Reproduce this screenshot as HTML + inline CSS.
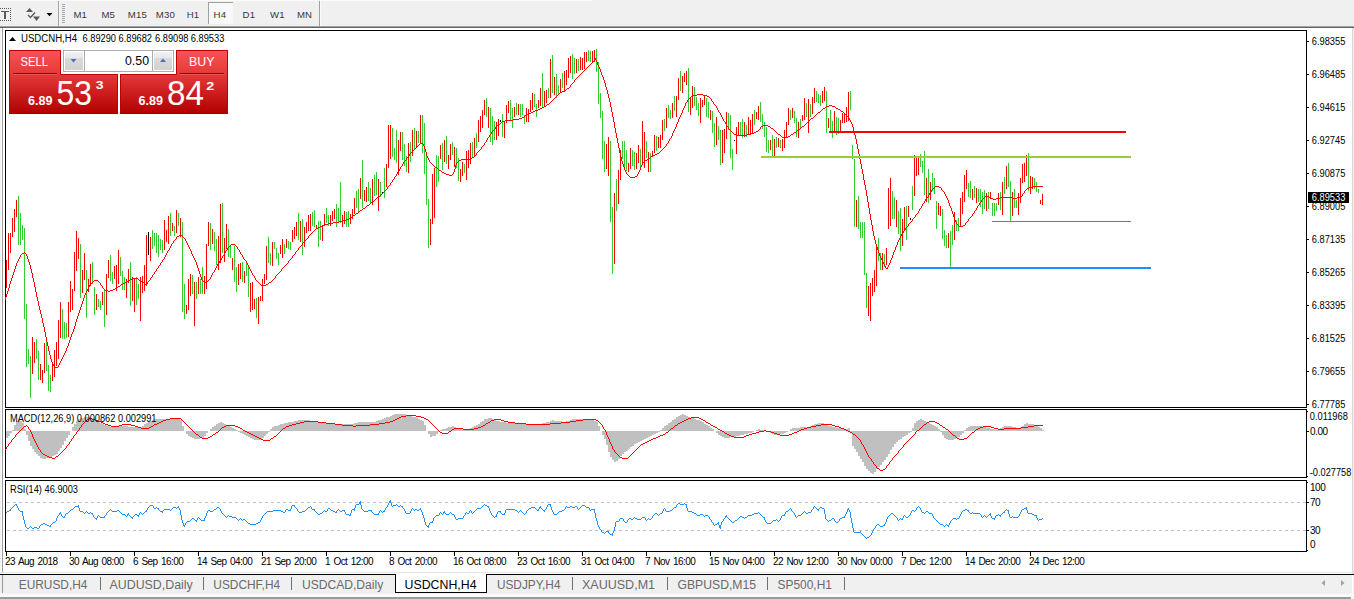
<!DOCTYPE html><html><head><meta charset="utf-8"><style>body{margin:0;width:1354px;height:599px;overflow:hidden;background:#fff;position:relative;font-family:"Liberation Sans",sans-serif}</style></head><body><svg width="1354" height="599" viewBox="0 0 1354 599" style="position:absolute;left:0;top:0" font-family="Liberation Sans, sans-serif"><rect x="0" y="0" width="1354" height="27" fill="#f0f0f0"/><rect x="0" y="0" width="593" height="1" fill="#fafafa"/><rect x="0" y="26" width="1354" height="1" fill="#a4a4a4"/><rect x="0" y="27" width="1354" height="1" fill="#646464"/><rect x="0" y="8" width="1" height="1" fill="#5a5a5a"/><rect x="0" y="20" width="1" height="1" fill="#5a5a5a"/><rect x="2" y="8" width="1" height="1" fill="#5a5a5a"/><rect x="2" y="20" width="1" height="1" fill="#5a5a5a"/><rect x="4" y="8" width="1" height="1" fill="#5a5a5a"/><rect x="4" y="20" width="1" height="1" fill="#5a5a5a"/><rect x="6" y="8" width="1" height="1" fill="#5a5a5a"/><rect x="6" y="20" width="1" height="1" fill="#5a5a5a"/><rect x="8" y="8" width="1" height="1" fill="#5a5a5a"/><rect x="8" y="20" width="1" height="1" fill="#5a5a5a"/><rect x="10" y="8" width="1" height="1" fill="#5a5a5a"/><rect x="10" y="20" width="1" height="1" fill="#5a5a5a"/><rect x="10" y="10" width="1" height="1" fill="#5a5a5a"/><rect x="10" y="12" width="1" height="1" fill="#5a5a5a"/><rect x="10" y="14" width="1" height="1" fill="#5a5a5a"/><rect x="10" y="16" width="1" height="1" fill="#5a5a5a"/><rect x="10" y="18" width="1" height="1" fill="#5a5a5a"/><rect x="1" y="11" width="8" height="1" fill="#5a5a5a"/><rect x="4" y="11" width="2" height="8" fill="#5a5a5a"/><path d="M26 12 L29.5 8 L33 12 Z" fill="#5a5a5a"/><path d="M33 16.5 L40 16.5 L36.5 21 Z" fill="#5a5a5a"/><path d="M28 15 L30.5 17.5 L35 12.5" stroke="#5a5a5a" stroke-width="1.3" fill="none"/><path d="M46.5 13 L52.5 13 L49.5 16.3 Z" fill="#000"/><rect x="58" y="1" width="1" height="25" fill="#a0a0a0"/><rect x="59" y="1" width="1" height="25" fill="#fbfbfb"/><rect x="62" y="4" width="3" height="1" fill="#a8a8a8"/><rect x="62" y="6" width="3" height="1" fill="#a8a8a8"/><rect x="62" y="8" width="3" height="1" fill="#a8a8a8"/><rect x="62" y="10" width="3" height="1" fill="#a8a8a8"/><rect x="62" y="12" width="3" height="1" fill="#a8a8a8"/><rect x="62" y="14" width="3" height="1" fill="#a8a8a8"/><rect x="62" y="16" width="3" height="1" fill="#a8a8a8"/><rect x="62" y="18" width="3" height="1" fill="#a8a8a8"/><rect x="62" y="20" width="3" height="1" fill="#a8a8a8"/><rect x="62" y="22" width="3" height="1" fill="#a8a8a8"/><rect x="208" y="2" width="25" height="22" fill="#f8f8f8"/><rect x="208" y="2" width="25" height="1" fill="#a0a0a0"/><rect x="208" y="2" width="1" height="22" fill="#a0a0a0"/><rect x="319" y="1" width="1" height="25" fill="#a0a0a0"/><rect x="320" y="1" width="1" height="25" fill="#fbfbfb"/><text x="73.4" y="18" font-size="9.6" fill="#383838" style="letter-spacing:0.2px">M1</text><text x="101.4" y="18" font-size="9.6" fill="#383838" style="letter-spacing:0.2px">M5</text><text x="127.7" y="18" font-size="9.6" fill="#383838" style="letter-spacing:0.2px">M15</text><text x="155.7" y="18" font-size="9.6" fill="#383838" style="letter-spacing:0.2px">M30</text><text x="186.7" y="18" font-size="9.6" fill="#383838" style="letter-spacing:0.2px">H1</text><text x="213.6" y="18" font-size="9.6" fill="#383838" style="letter-spacing:0.2px">H4</text><text x="242.6" y="18" font-size="9.6" fill="#383838" style="letter-spacing:0.2px">D1</text><text x="270" y="18" font-size="9.6" fill="#383838" style="letter-spacing:0.2px">W1</text><text x="296.9" y="18" font-size="9.6" fill="#383838" style="letter-spacing:0.2px">MN</text><rect x="0" y="28" width="1354" height="546" fill="#ffffff"/><rect x="0" y="28" width="1" height="571" fill="#f0f0f0"/><rect x="2" y="28" width="1" height="545" fill="#9a9a9a"/><rect x="1352" y="28" width="1" height="546" fill="#d8d8d8"/><rect x="1353" y="28" width="1" height="571" fill="#f0f0f0"/><rect x="5" y="30" width="1302" height="1" fill="#000"/><rect x="5" y="407" width="1302" height="1" fill="#000"/><rect x="5" y="30" width="1" height="378" fill="#000"/><rect x="1306" y="30" width="1" height="378" fill="#000"/><rect x="5" y="409" width="1302" height="1" fill="#000"/><rect x="5" y="477" width="1302" height="1" fill="#000"/><rect x="5" y="409" width="1" height="69" fill="#000"/><rect x="1306" y="409" width="1" height="69" fill="#000"/><rect x="5" y="480" width="1302" height="1" fill="#000"/><rect x="5" y="551" width="1302" height="1" fill="#000"/><rect x="5" y="480" width="1" height="72" fill="#000"/><rect x="1306" y="480" width="1" height="72" fill="#000"/><rect x="1307" y="41" width="2" height="1" fill="#000"/><text x="1311.8" y="45" font-size="10" fill="#000" textLength="33.5" lengthAdjust="spacingAndGlyphs">6.98355</text><rect x="1307" y="74" width="2" height="1" fill="#000"/><text x="1311.8" y="78" font-size="10" fill="#000" textLength="33.5" lengthAdjust="spacingAndGlyphs">6.96485</text><rect x="1307" y="107" width="2" height="1" fill="#000"/><text x="1311.8" y="111" font-size="10" fill="#000" textLength="33.5" lengthAdjust="spacingAndGlyphs">6.94615</text><rect x="1307" y="140" width="2" height="1" fill="#000"/><text x="1311.8" y="144" font-size="10" fill="#000" textLength="33.5" lengthAdjust="spacingAndGlyphs">6.92745</text><rect x="1307" y="173" width="2" height="1" fill="#000"/><text x="1311.8" y="177" font-size="10" fill="#000" textLength="33.5" lengthAdjust="spacingAndGlyphs">6.90875</text><rect x="1307" y="206" width="2" height="1" fill="#000"/><text x="1311.8" y="210" font-size="10" fill="#000" textLength="33.5" lengthAdjust="spacingAndGlyphs">6.89005</text><rect x="1307" y="239" width="2" height="1" fill="#000"/><text x="1311.8" y="243" font-size="10" fill="#000" textLength="33.5" lengthAdjust="spacingAndGlyphs">6.87135</text><rect x="1307" y="272" width="2" height="1" fill="#000"/><text x="1311.8" y="276" font-size="10" fill="#000" textLength="33.5" lengthAdjust="spacingAndGlyphs">6.85265</text><rect x="1307" y="305" width="2" height="1" fill="#000"/><text x="1311.8" y="309" font-size="10" fill="#000" textLength="33.5" lengthAdjust="spacingAndGlyphs">6.83395</text><rect x="1307" y="338" width="2" height="1" fill="#000"/><text x="1311.8" y="342" font-size="10" fill="#000" textLength="33.5" lengthAdjust="spacingAndGlyphs">6.81525</text><rect x="1307" y="371" width="2" height="1" fill="#000"/><text x="1311.8" y="375" font-size="10" fill="#000" textLength="33.5" lengthAdjust="spacingAndGlyphs">6.79655</text><rect x="1307" y="404" width="2" height="1" fill="#000"/><text x="1311.8" y="408" font-size="10" fill="#000" textLength="33.5" lengthAdjust="spacingAndGlyphs">6.77785</text><rect x="1308" y="192" width="41" height="11" fill="#000"/><text x="1311.8" y="201" font-size="10" fill="#fff" textLength="33.5" lengthAdjust="spacingAndGlyphs">6.89533</text><rect x="1307" y="411" width="1" height="1" fill="#000"/><rect x="1307" y="431" width="2" height="1" fill="#000"/><rect x="1307" y="476" width="1" height="1" fill="#000"/><text x="1309.8" y="420" font-size="10" fill="#000" textLength="38" lengthAdjust="spacingAndGlyphs">0.011968</text><text x="1310" y="435" font-size="10" fill="#000" style="letter-spacing:-0.45px">0.00</text><text x="1309.8" y="475.5" font-size="10" fill="#000" textLength="41.5" lengthAdjust="spacingAndGlyphs">-0.027758</text><rect x="1307" y="482" width="1" height="1" fill="#000"/><rect x="1307" y="502" width="2" height="1" fill="#000"/><rect x="1307" y="530" width="2" height="1" fill="#000"/><rect x="1307" y="550" width="1" height="1" fill="#000"/><text x="1310" y="491" font-size="10" fill="#000" style="letter-spacing:-0.45px">100</text><text x="1310" y="506" font-size="10" fill="#000" style="letter-spacing:-0.45px">70</text><text x="1310" y="534" font-size="10" fill="#000" style="letter-spacing:-0.45px">30</text><text x="1310" y="548" font-size="10" fill="#000" style="letter-spacing:-0.45px">0</text><line x1="7" y1="502.5" x2="1306" y2="502.5" stroke="#c0c0c0" stroke-width="1" stroke-dasharray="3,3"/><line x1="7" y1="530.5" x2="1306" y2="530.5" stroke="#c0c0c0" stroke-width="1" stroke-dasharray="3,3"/><rect x="6" y="552" width="1" height="4" fill="#000"/><text x="5" y="565" font-size="10" fill="#000" style="letter-spacing:-0.55px;word-spacing:1.2px">23 Aug 2018</text><rect x="70" y="552" width="1" height="4" fill="#000"/><text x="69" y="565" font-size="10" fill="#000" style="letter-spacing:-0.55px;word-spacing:1.2px">30 Aug 08:00</text><rect x="134" y="552" width="1" height="4" fill="#000"/><text x="133" y="565" font-size="10" fill="#000" style="letter-spacing:-0.55px;word-spacing:1.2px">6 Sep 16:00</text><rect x="198" y="552" width="1" height="4" fill="#000"/><text x="197" y="565" font-size="10" fill="#000" style="letter-spacing:-0.55px;word-spacing:1.2px">14 Sep 04:00</text><rect x="262" y="552" width="1" height="4" fill="#000"/><text x="261" y="565" font-size="10" fill="#000" style="letter-spacing:-0.55px;word-spacing:1.2px">21 Sep 20:00</text><rect x="326" y="552" width="1" height="4" fill="#000"/><text x="325" y="565" font-size="10" fill="#000" style="letter-spacing:-0.55px;word-spacing:1.2px">1 Oct 12:00</text><rect x="390" y="552" width="1" height="4" fill="#000"/><text x="389" y="565" font-size="10" fill="#000" style="letter-spacing:-0.55px;word-spacing:1.2px">8 Oct 20:00</text><rect x="454" y="552" width="1" height="4" fill="#000"/><text x="453" y="565" font-size="10" fill="#000" style="letter-spacing:-0.55px;word-spacing:1.2px">16 Oct 08:00</text><rect x="518" y="552" width="1" height="4" fill="#000"/><text x="517" y="565" font-size="10" fill="#000" style="letter-spacing:-0.55px;word-spacing:1.2px">23 Oct 16:00</text><rect x="582" y="552" width="1" height="4" fill="#000"/><text x="581" y="565" font-size="10" fill="#000" style="letter-spacing:-0.55px;word-spacing:1.2px">31 Oct 04:00</text><rect x="646" y="552" width="1" height="4" fill="#000"/><text x="645" y="565" font-size="10" fill="#000" style="letter-spacing:-0.55px;word-spacing:1.2px">7 Nov 16:00</text><rect x="710" y="552" width="1" height="4" fill="#000"/><text x="709" y="565" font-size="10" fill="#000" style="letter-spacing:-0.55px;word-spacing:1.2px">15 Nov 04:00</text><rect x="774" y="552" width="1" height="4" fill="#000"/><text x="773" y="565" font-size="10" fill="#000" style="letter-spacing:-0.55px;word-spacing:1.2px">22 Nov 12:00</text><rect x="838" y="552" width="1" height="4" fill="#000"/><text x="837" y="565" font-size="10" fill="#000" style="letter-spacing:-0.55px;word-spacing:1.2px">30 Nov 00:00</text><rect x="902" y="552" width="1" height="4" fill="#000"/><text x="901" y="565" font-size="10" fill="#000" style="letter-spacing:-0.55px;word-spacing:1.2px">7 Dec 12:00</text><rect x="966" y="552" width="1" height="4" fill="#000"/><text x="965" y="565" font-size="10" fill="#000" style="letter-spacing:-0.55px;word-spacing:1.2px">14 Dec 20:00</text><rect x="1030" y="552" width="1" height="4" fill="#000"/><text x="1029" y="565" font-size="10" fill="#000" style="letter-spacing:-0.55px;word-spacing:1.2px">24 Dec 12:00</text><rect x="0" y="572" width="1354" height="1" fill="#e4e4e4"/><rect x="0" y="574" width="1354" height="1" fill="#000"/><rect x="1" y="575" width="1351" height="19" fill="#f0f0f0"/><rect x="2" y="575" width="1" height="18" fill="#9a9a9a"/><rect x="0" y="594" width="1354" height="3" fill="#fcfcfc"/><rect x="0" y="597" width="1351" height="2" fill="#9a9a9a"/><rect x="395" y="573" width="92" height="20" fill="#fff"/><rect x="395" y="574" width="1" height="19" fill="#000"/><rect x="486" y="574" width="1" height="19" fill="#000"/><rect x="395" y="592" width="92" height="1" fill="#000"/><text x="18.7" y="589" font-size="12" fill="#6a6a6a" textLength="68.8" lengthAdjust="spacingAndGlyphs">EURUSD,H4</text><rect x="100" y="577" width="1" height="13" fill="#707070"/><text x="109.5" y="589" font-size="12" fill="#6a6a6a" textLength="83.3" lengthAdjust="spacingAndGlyphs">AUDUSD,Daily</text><rect x="203" y="577" width="1" height="13" fill="#707070"/><text x="213.3" y="589" font-size="12" fill="#6a6a6a" textLength="66.8" lengthAdjust="spacingAndGlyphs">USDCHF,H4</text><rect x="291" y="577" width="1" height="13" fill="#707070"/><text x="301.9" y="589" font-size="12" fill="#6a6a6a" textLength="81.4" lengthAdjust="spacingAndGlyphs">USDCAD,Daily</text><text x="496.9" y="589" font-size="12" fill="#6a6a6a" textLength="63.6" lengthAdjust="spacingAndGlyphs">USDJPY,H4</text><rect x="572" y="577" width="1" height="13" fill="#707070"/><text x="581.9" y="589" font-size="12" fill="#6a6a6a" textLength="73.2" lengthAdjust="spacingAndGlyphs">XAUUSD,M1</text><rect x="667" y="577" width="1" height="13" fill="#707070"/><text x="677.4" y="589" font-size="12" fill="#6a6a6a" textLength="78.7" lengthAdjust="spacingAndGlyphs">GBPUSD,M15</text><rect x="767" y="577" width="1" height="13" fill="#707070"/><text x="777.5" y="589" font-size="12" fill="#6a6a6a" textLength="54.4" lengthAdjust="spacingAndGlyphs">SP500,H1</text><rect x="844" y="577" width="1" height="13" fill="#707070"/><text x="404.5" y="589" font-size="12" fill="#000" textLength="72" lengthAdjust="spacingAndGlyphs">USDCNH,H4</text><path d="M1325 580 L1321.5 583 L1325 586 Z" fill="#a0a0a0"/><path d="M1341 580 L1344.5 583 L1341 586 Z" fill="#a0a0a0"/><path d="M9 41 L12.5 37 L16 41 Z" fill="#000"/><text x="21" y="42" font-size="10" fill="#000" textLength="56" lengthAdjust="spacingAndGlyphs">USDCNH,H4</text><text x="82.5" y="42" font-size="10" fill="#000" textLength="33.5" lengthAdjust="spacingAndGlyphs">6.89290</text><text x="118.5" y="42" font-size="10" fill="#000" textLength="33.5" lengthAdjust="spacingAndGlyphs">6.89682</text><text x="155" y="42" font-size="10" fill="#000" textLength="33.5" lengthAdjust="spacingAndGlyphs">6.89098</text><text x="190.8" y="42" font-size="10" fill="#000" textLength="33.5" lengthAdjust="spacingAndGlyphs">6.89533</text><path d="M6 431h2V438h-2ZM8 431h2V436h-2ZM10 431h2V433h-2ZM12 430h2V431h-2ZM14 425h2V431h-2ZM16 421h2V431h-2ZM18 420h2V431h-2ZM20 421h2V431h-2ZM22 423h2V431h-2ZM24 429h2V431h-2ZM26 431h2V435h-2ZM28 431h2V441h-2ZM30 431h2V446h-2ZM32 431h2V449h-2ZM34 431h2V452h-2ZM36 431h2V454h-2ZM38 431h2V456h-2ZM40 431h2V458h-2ZM42 431h2V459h-2ZM44 431h2V459h-2ZM46 431h2V458h-2ZM48 431h2V458h-2ZM50 431h2V458h-2ZM52 431h2V456h-2ZM54 431h2V455h-2ZM56 431h2V454h-2ZM58 431h2V451h-2ZM60 431h2V448h-2ZM62 431h2V445h-2ZM64 431h2V441h-2ZM66 431h2V438h-2ZM68 431h2V435h-2ZM72 427h2V431h-2ZM74 424h2V431h-2ZM76 421h2V431h-2ZM78 419h2V431h-2ZM80 418h2V431h-2ZM82 418h2V431h-2ZM84 417h2V431h-2ZM86 417h2V431h-2ZM88 417h2V431h-2ZM90 418h2V431h-2ZM92 418h2V431h-2ZM94 419h2V431h-2ZM96 421h2V431h-2ZM98 422h2V431h-2ZM100 423h2V431h-2ZM102 424h2V431h-2ZM104 425h2V431h-2ZM106 426h2V431h-2ZM108 426h2V431h-2ZM110 427h2V431h-2ZM112 427h2V431h-2ZM114 426h2V431h-2ZM116 426h2V431h-2ZM118 426h2V431h-2ZM120 426h2V431h-2ZM122 426h2V431h-2ZM124 426h2V431h-2ZM126 426h2V431h-2ZM128 427h2V431h-2ZM130 427h2V431h-2ZM132 427h2V431h-2ZM134 427h2V431h-2ZM136 427h2V431h-2ZM138 427h2V431h-2ZM140 427h2V431h-2ZM142 426h2V431h-2ZM144 424h2V431h-2ZM146 423h2V431h-2ZM148 422h2V431h-2ZM150 421h2V431h-2ZM152 420h2V431h-2ZM154 419h2V431h-2ZM156 419h2V431h-2ZM158 419h2V431h-2ZM160 419h2V431h-2ZM162 419h2V431h-2ZM164 419h2V431h-2ZM166 419h2V431h-2ZM168 419h2V431h-2ZM170 419h2V431h-2ZM172 419h2V431h-2ZM174 419h2V431h-2ZM176 419h2V431h-2ZM178 419h2V431h-2ZM180 420h2V431h-2ZM182 426h2V431h-2ZM186 431h2V434h-2ZM188 431h2V436h-2ZM190 431h2V437h-2ZM192 431h2V438h-2ZM194 431h2V439h-2ZM196 431h2V439h-2ZM198 431h2V439h-2ZM200 431h2V438h-2ZM202 431h2V438h-2ZM204 431h2V436h-2ZM206 431h2V433h-2ZM210 429h2V431h-2ZM212 427h2V431h-2ZM214 426h2V431h-2ZM216 424h2V431h-2ZM218 423h2V431h-2ZM220 422h2V431h-2ZM222 423h2V431h-2ZM224 424h2V431h-2ZM226 425h2V431h-2ZM228 426h2V431h-2ZM230 427h2V431h-2ZM232 428h2V431h-2ZM234 429h2V431h-2ZM236 430h2V431h-2ZM238 431h2V432h-2ZM240 431h2V433h-2ZM242 431h2V434h-2ZM244 431h2V435h-2ZM246 431h2V436h-2ZM248 431h2V437h-2ZM250 431h2V438h-2ZM252 431h2V439h-2ZM254 431h2V440h-2ZM256 431h2V440h-2ZM258 431h2V440h-2ZM260 431h2V440h-2ZM262 431h2V438h-2ZM264 431h2V436h-2ZM266 431h2V434h-2ZM268 431h2V432h-2ZM270 429h2V431h-2ZM272 427h2V431h-2ZM274 426h2V431h-2ZM276 426h2V431h-2ZM278 425h2V431h-2ZM280 424h2V431h-2ZM282 424h2V431h-2ZM284 423h2V431h-2ZM286 423h2V431h-2ZM288 422h2V431h-2ZM290 422h2V431h-2ZM292 422h2V431h-2ZM294 421h2V431h-2ZM296 421h2V431h-2ZM298 420h2V431h-2ZM300 420h2V431h-2ZM302 420h2V431h-2ZM304 420h2V431h-2ZM306 420h2V431h-2ZM308 420h2V431h-2ZM310 421h2V431h-2ZM312 421h2V431h-2ZM314 421h2V431h-2ZM316 421h2V431h-2ZM318 422h2V431h-2ZM320 422h2V431h-2ZM322 422h2V431h-2ZM324 423h2V431h-2ZM326 423h2V431h-2ZM328 423h2V431h-2ZM330 424h2V431h-2ZM332 424h2V431h-2ZM334 424h2V431h-2ZM336 424h2V431h-2ZM338 424h2V431h-2ZM340 424h2V431h-2ZM342 424h2V431h-2ZM344 424h2V431h-2ZM346 424h2V431h-2ZM348 424h2V431h-2ZM350 424h2V431h-2ZM352 424h2V431h-2ZM354 423h2V431h-2ZM356 423h2V431h-2ZM358 422h2V431h-2ZM360 422h2V431h-2ZM362 422h2V431h-2ZM364 422h2V431h-2ZM366 422h2V431h-2ZM368 422h2V431h-2ZM370 422h2V431h-2ZM372 422h2V431h-2ZM374 422h2V431h-2ZM376 421h2V431h-2ZM378 420h2V431h-2ZM380 420h2V431h-2ZM382 419h2V431h-2ZM384 418h2V431h-2ZM386 417h2V431h-2ZM388 417h2V431h-2ZM390 416h2V431h-2ZM392 415h2V431h-2ZM394 414h2V431h-2ZM396 414h2V431h-2ZM398 414h2V431h-2ZM400 414h2V431h-2ZM402 414h2V431h-2ZM404 414h2V431h-2ZM406 415h2V431h-2ZM408 415h2V431h-2ZM410 416h2V431h-2ZM412 417h2V431h-2ZM414 417h2V431h-2ZM416 418h2V431h-2ZM418 419h2V431h-2ZM420 420h2V431h-2ZM422 421h2V431h-2ZM424 425h2V431h-2ZM428 431h2V434h-2ZM430 431h2V437h-2ZM432 431h2V436h-2ZM434 431h2V436h-2ZM436 431h2V434h-2ZM438 431h2V432h-2ZM440 430h2V431h-2ZM442 429h2V431h-2ZM444 429h2V431h-2ZM446 428h2V431h-2ZM448 427h2V431h-2ZM450 427h2V431h-2ZM452 426h2V431h-2ZM454 427h2V431h-2ZM456 428h2V431h-2ZM458 428h2V431h-2ZM460 429h2V431h-2ZM462 430h2V431h-2ZM464 430h2V431h-2ZM466 429h2V431h-2ZM468 429h2V431h-2ZM470 428h2V431h-2ZM472 427h2V431h-2ZM474 426h2V431h-2ZM476 425h2V431h-2ZM478 424h2V431h-2ZM480 422h2V431h-2ZM482 421h2V431h-2ZM484 419h2V431h-2ZM486 419h2V431h-2ZM488 418h2V431h-2ZM490 418h2V431h-2ZM492 419h2V431h-2ZM494 420h2V431h-2ZM496 421h2V431h-2ZM498 421h2V431h-2ZM500 422h2V431h-2ZM502 422h2V431h-2ZM504 422h2V431h-2ZM506 423h2V431h-2ZM508 423h2V431h-2ZM510 423h2V431h-2ZM512 423h2V431h-2ZM514 423h2V431h-2ZM516 424h2V431h-2ZM518 424h2V431h-2ZM520 424h2V431h-2ZM522 424h2V431h-2ZM524 424h2V431h-2ZM526 424h2V431h-2ZM528 424h2V431h-2ZM530 424h2V431h-2ZM532 424h2V431h-2ZM534 424h2V431h-2ZM536 424h2V431h-2ZM538 424h2V431h-2ZM540 424h2V431h-2ZM542 423h2V431h-2ZM544 423h2V431h-2ZM546 422h2V431h-2ZM548 422h2V431h-2ZM550 421h2V431h-2ZM552 420h2V431h-2ZM554 421h2V431h-2ZM556 421h2V431h-2ZM558 421h2V431h-2ZM560 421h2V431h-2ZM562 422h2V431h-2ZM564 422h2V431h-2ZM566 421h2V431h-2ZM568 421h2V431h-2ZM570 420h2V431h-2ZM572 419h2V431h-2ZM574 419h2V431h-2ZM576 419h2V431h-2ZM578 419h2V431h-2ZM580 419h2V431h-2ZM582 419h2V431h-2ZM584 419h2V431h-2ZM586 419h2V431h-2ZM588 419h2V431h-2ZM590 419h2V431h-2ZM592 420h2V431h-2ZM594 421h2V431h-2ZM596 422h2V431h-2ZM598 426h2V431h-2ZM602 431h2V435h-2ZM604 431h2V439h-2ZM606 431h2V445h-2ZM608 431h2V452h-2ZM610 431h2V457h-2ZM612 431h2V460h-2ZM614 431h2V462h-2ZM616 431h2V461h-2ZM618 431h2V459h-2ZM620 431h2V456h-2ZM622 431h2V454h-2ZM624 431h2V452h-2ZM626 431h2V451h-2ZM628 431h2V449h-2ZM630 431h2V447h-2ZM632 431h2V446h-2ZM634 431h2V444h-2ZM636 431h2V443h-2ZM638 431h2V442h-2ZM640 431h2V441h-2ZM642 431h2V440h-2ZM644 431h2V439h-2ZM646 431h2V438h-2ZM648 431h2V437h-2ZM650 431h2V436h-2ZM652 431h2V435h-2ZM654 431h2V434h-2ZM656 431h2V433h-2ZM658 431h2V432h-2ZM660 430h2V431h-2ZM662 428h2V431h-2ZM664 426h2V431h-2ZM666 425h2V431h-2ZM668 423h2V431h-2ZM670 422h2V431h-2ZM672 420h2V431h-2ZM674 419h2V431h-2ZM676 417h2V431h-2ZM678 416h2V431h-2ZM680 415h2V431h-2ZM682 414h2V431h-2ZM684 415h2V431h-2ZM686 416h2V431h-2ZM688 417h2V431h-2ZM690 418h2V431h-2ZM692 418h2V431h-2ZM694 419h2V431h-2ZM696 420h2V431h-2ZM698 420h2V431h-2ZM700 421h2V431h-2ZM702 422h2V431h-2ZM704 424h2V431h-2ZM706 425h2V431h-2ZM708 426h2V431h-2ZM710 428h2V431h-2ZM712 429h2V431h-2ZM716 431h2V433h-2ZM718 431h2V435h-2ZM720 431h2V436h-2ZM722 431h2V437h-2ZM724 431h2V438h-2ZM726 431h2V438h-2ZM728 431h2V438h-2ZM730 431h2V437h-2ZM732 431h2V437h-2ZM734 431h2V437h-2ZM736 431h2V436h-2ZM738 431h2V436h-2ZM740 431h2V435h-2ZM742 431h2V435h-2ZM744 431h2V434h-2ZM746 431h2V434h-2ZM748 431h2V433h-2ZM750 431h2V433h-2ZM752 431h2V432h-2ZM756 430h2V431h-2ZM758 429h2V431h-2ZM760 430h2V431h-2ZM762 430h2V431h-2ZM764 430h2V431h-2ZM768 431h2V432h-2ZM770 431h2V433h-2ZM772 431h2V434h-2ZM774 431h2V435h-2ZM776 431h2V435h-2ZM778 431h2V435h-2ZM780 431h2V434h-2ZM782 431h2V434h-2ZM784 431h2V433h-2ZM786 431h2V432h-2ZM790 429h2V431h-2ZM792 428h2V431h-2ZM794 428h2V431h-2ZM796 428h2V431h-2ZM798 428h2V431h-2ZM800 427h2V431h-2ZM802 427h2V431h-2ZM804 427h2V431h-2ZM806 427h2V431h-2ZM808 427h2V431h-2ZM810 426h2V431h-2ZM812 425h2V431h-2ZM814 424h2V431h-2ZM816 424h2V431h-2ZM818 423h2V431h-2ZM820 423h2V431h-2ZM822 423h2V431h-2ZM824 424h2V431h-2ZM826 425h2V431h-2ZM828 426h2V431h-2ZM830 426h2V431h-2ZM832 427h2V431h-2ZM834 427h2V431h-2ZM836 428h2V431h-2ZM838 428h2V431h-2ZM840 428h2V431h-2ZM842 429h2V431h-2ZM844 429h2V431h-2ZM846 429h2V431h-2ZM848 428h2V431h-2ZM850 431h2V432h-2ZM852 431h2V446h-2ZM854 431h2V449h-2ZM856 431h2V452h-2ZM858 431h2V456h-2ZM860 431h2V459h-2ZM862 431h2V462h-2ZM864 431h2V466h-2ZM866 431h2V469h-2ZM868 431h2V471h-2ZM870 431h2V473h-2ZM872 431h2V474h-2ZM874 431h2V472h-2ZM876 431h2V469h-2ZM878 431h2V467h-2ZM880 431h2V465h-2ZM882 431h2V462h-2ZM884 431h2V460h-2ZM886 431h2V457h-2ZM888 431h2V454h-2ZM890 431h2V450h-2ZM892 431h2V447h-2ZM894 431h2V444h-2ZM896 431h2V442h-2ZM898 431h2V440h-2ZM900 431h2V439h-2ZM902 431h2V437h-2ZM904 431h2V436h-2ZM906 431h2V435h-2ZM908 431h2V433h-2ZM910 431h2V432h-2ZM912 428h2V431h-2ZM914 423h2V431h-2ZM916 421h2V431h-2ZM918 420h2V431h-2ZM920 419h2V431h-2ZM922 420h2V431h-2ZM924 421h2V431h-2ZM926 422h2V431h-2ZM928 423h2V431h-2ZM930 424h2V431h-2ZM932 425h2V431h-2ZM934 426h2V431h-2ZM936 427h2V431h-2ZM938 429h2V431h-2ZM940 431h2V432h-2ZM942 431h2V435h-2ZM944 431h2V438h-2ZM946 431h2V439h-2ZM948 431h2V440h-2ZM950 431h2V440h-2ZM952 431h2V440h-2ZM954 431h2V439h-2ZM956 431h2V438h-2ZM958 431h2V437h-2ZM960 431h2V435h-2ZM962 431h2V433h-2ZM964 430h2V431h-2ZM966 428h2V431h-2ZM968 427h2V431h-2ZM970 426h2V431h-2ZM972 426h2V431h-2ZM974 426h2V431h-2ZM976 426h2V431h-2ZM978 426h2V431h-2ZM980 426h2V431h-2ZM982 427h2V431h-2ZM984 427h2V431h-2ZM986 428h2V431h-2ZM988 428h2V431h-2ZM990 429h2V431h-2ZM992 429h2V431h-2ZM994 430h2V431h-2ZM996 430h2V431h-2ZM998 429h2V431h-2ZM1000 428h2V431h-2ZM1002 427h2V431h-2ZM1004 426h2V431h-2ZM1006 426h2V431h-2ZM1008 426h2V431h-2ZM1010 426h2V431h-2ZM1012 427h2V431h-2ZM1014 427h2V431h-2ZM1016 428h2V431h-2ZM1018 428h2V431h-2ZM1020 427h2V431h-2ZM1022 426h2V431h-2ZM1024 424h2V431h-2ZM1026 423h2V431h-2ZM1028 424h2V431h-2ZM1030 424h2V431h-2ZM1032 424h2V431h-2ZM1034 425h2V431h-2ZM1036 426h2V431h-2ZM1038 427h2V431h-2ZM1040 428h2V431h-2ZM1042 430h2V431h-2Z" fill="#c0c0c0" shape-rendering="crispEdges"/><path d="M5 449h1V450h-1ZM6 447h1V449h-1ZM7 446h1V447h-1ZM8 444h1V446h-1ZM9 443h1V444h-1ZM10 442h1V443h-1ZM11 440h1V442h-1ZM12 439h1V440h-1ZM13 438h1V439h-1ZM14 437h1V438h-1ZM15 435h1V437h-1ZM16 434h1V435h-1ZM17 433h1V434h-1ZM18 432h1V433h-1ZM19 431h1V432h-1ZM20 430h1V431h-1ZM21 429h1V430h-1ZM22 428h1V429h-1ZM23 427h1V428h-1ZM24 426h1V427h-1ZM25 426h1V427h-1ZM26 425h1V426h-1ZM27 426h1V427h-1ZM28 427h1V429h-1ZM29 429h1V430h-1ZM30 430h1V432h-1ZM31 432h1V434h-1ZM32 434h1V437h-1ZM33 437h1V439h-1ZM34 439h1V441h-1ZM35 441h1V443h-1ZM36 443h1V445h-1ZM37 445h1V447h-1ZM38 447h1V449h-1ZM39 449h1V450h-1ZM40 450h1V452h-1ZM41 452h1V453h-1ZM42 453h1V454h-1ZM43 454h1V455h-1ZM44 454h1V455h-1ZM45 455h1V456h-1ZM46 455h1V456h-1ZM47 456h1V457h-1ZM48 456h1V457h-1ZM49 457h1V458h-1ZM50 457h1V458h-1ZM51 457h1V458h-1ZM52 458h1V459h-1ZM53 458h1V459h-1ZM54 458h1V459h-1ZM55 457h1V458h-1ZM56 456h1V457h-1ZM57 456h1V457h-1ZM58 455h1V456h-1ZM59 454h1V455h-1ZM60 453h1V454h-1ZM61 452h1V453h-1ZM62 451h1V452h-1ZM63 450h1V451h-1ZM64 449h1V450h-1ZM65 448h1V449h-1ZM66 446h1V448h-1ZM67 445h1V446h-1ZM68 444h1V445h-1ZM69 442h1V444h-1ZM70 441h1V442h-1ZM71 439h1V441h-1ZM72 438h1V439h-1ZM73 436h1V438h-1ZM74 435h1V436h-1ZM75 434h1V435h-1ZM76 432h1V434h-1ZM77 431h1V432h-1ZM78 430h1V431h-1ZM79 428h1V430h-1ZM80 427h1V428h-1ZM81 425h1V427h-1ZM82 424h1V425h-1ZM83 423h1V424h-1ZM84 422h1V423h-1ZM85 421h1V422h-1ZM86 420h1V421h-1ZM87 419h1V420h-1ZM88 419h1V420h-1ZM89 418h1V419h-1ZM90 418h1V419h-1ZM91 418h1V419h-1ZM92 419h1V420h-1ZM93 419h1V420h-1ZM94 419h1V420h-1ZM95 420h1V421h-1ZM96 420h1V421h-1ZM97 420h1V421h-1ZM98 421h1V422h-1ZM99 421h1V422h-1ZM100 421h1V422h-1ZM101 422h1V423h-1ZM102 422h1V423h-1ZM103 423h1V424h-1ZM104 423h1V424h-1ZM105 424h1V425h-1ZM106 424h1V425h-1ZM107 424h1V425h-1ZM108 425h1V426h-1ZM109 425h1V426h-1ZM110 425h1V426h-1ZM111 426h1V427h-1ZM112 426h1V427h-1ZM113 426h1V427h-1ZM114 426h1V427h-1ZM115 426h1V427h-1ZM116 426h1V427h-1ZM117 426h1V427h-1ZM118 426h1V427h-1ZM119 425h1V426h-1ZM120 425h1V426h-1ZM121 425h1V426h-1ZM122 424h1V425h-1ZM123 424h1V425h-1ZM124 424h1V425h-1ZM125 424h1V425h-1ZM126 424h1V425h-1ZM127 424h1V425h-1ZM128 424h1V425h-1ZM129 424h1V425h-1ZM130 424h1V425h-1ZM131 425h1V426h-1ZM132 425h1V426h-1ZM133 425h1V426h-1ZM134 425h1V426h-1ZM135 426h1V427h-1ZM136 426h1V427h-1ZM137 426h1V427h-1ZM138 427h1V428h-1ZM139 427h1V428h-1ZM140 427h1V428h-1ZM141 428h1V429h-1ZM142 428h1V429h-1ZM143 428h1V429h-1ZM144 428h1V429h-1ZM145 428h1V429h-1ZM146 428h1V429h-1ZM147 428h1V429h-1ZM148 428h1V429h-1ZM149 427h1V428h-1ZM150 427h1V428h-1ZM151 426h1V427h-1ZM152 426h1V427h-1ZM153 425h1V426h-1ZM154 424h1V425h-1ZM155 424h1V425h-1ZM156 424h1V425h-1ZM157 423h1V424h-1ZM158 423h1V424h-1ZM159 422h1V423h-1ZM160 422h1V423h-1ZM161 421h1V422h-1ZM162 421h1V422h-1ZM163 420h1V421h-1ZM164 420h1V421h-1ZM165 420h1V421h-1ZM166 419h1V420h-1ZM167 419h1V420h-1ZM168 419h1V420h-1ZM169 419h1V420h-1ZM170 418h1V419h-1ZM171 418h1V419h-1ZM172 418h1V419h-1ZM173 418h1V419h-1ZM174 418h1V419h-1ZM175 418h1V419h-1ZM176 418h1V419h-1ZM177 418h1V419h-1ZM178 418h1V419h-1ZM179 418h1V419h-1ZM180 418h1V419h-1ZM181 419h1V420h-1ZM182 420h1V421h-1ZM183 421h1V422h-1ZM184 422h1V423h-1ZM185 423h1V424h-1ZM186 424h1V425h-1ZM187 425h1V426h-1ZM188 426h1V427h-1ZM189 427h1V428h-1ZM190 428h1V429h-1ZM191 429h1V430h-1ZM192 430h1V431h-1ZM193 431h1V432h-1ZM194 432h1V433h-1ZM195 433h1V434h-1ZM196 434h1V435h-1ZM197 434h1V435h-1ZM198 435h1V436h-1ZM199 436h1V437h-1ZM200 437h1V438h-1ZM201 437h1V438h-1ZM202 438h1V439h-1ZM203 438h1V439h-1ZM204 438h1V439h-1ZM205 438h1V439h-1ZM206 438h1V439h-1ZM207 438h1V439h-1ZM208 437h1V438h-1ZM209 437h1V438h-1ZM210 436h1V437h-1ZM211 436h1V437h-1ZM212 435h1V436h-1ZM213 434h1V435h-1ZM214 434h1V435h-1ZM215 433h1V434h-1ZM216 432h1V433h-1ZM217 432h1V433h-1ZM218 431h1V432h-1ZM219 430h1V431h-1ZM220 429h1V430h-1ZM221 428h1V429h-1ZM222 427h1V428h-1ZM223 427h1V428h-1ZM224 426h1V427h-1ZM225 426h1V427h-1ZM226 425h1V426h-1ZM227 425h1V426h-1ZM228 425h1V426h-1ZM229 425h1V426h-1ZM230 425h1V426h-1ZM231 425h1V426h-1ZM232 425h1V426h-1ZM233 425h1V426h-1ZM234 425h1V426h-1ZM235 426h1V427h-1ZM236 426h1V427h-1ZM237 426h1V427h-1ZM238 427h1V428h-1ZM239 427h1V428h-1ZM240 428h1V429h-1ZM241 428h1V429h-1ZM242 429h1V430h-1ZM243 430h1V431h-1ZM244 430h1V431h-1ZM245 431h1V432h-1ZM246 431h1V432h-1ZM247 432h1V433h-1ZM248 432h1V433h-1ZM249 433h1V434h-1ZM250 433h1V434h-1ZM251 434h1V435h-1ZM252 434h1V435h-1ZM253 435h1V436h-1ZM254 435h1V436h-1ZM255 436h1V437h-1ZM256 436h1V437h-1ZM257 437h1V438h-1ZM258 437h1V438h-1ZM259 438h1V439h-1ZM260 438h1V439h-1ZM261 439h1V440h-1ZM262 439h1V440h-1ZM263 440h1V441h-1ZM264 440h1V441h-1ZM265 440h1V441h-1ZM266 440h1V441h-1ZM267 440h1V441h-1ZM268 440h1V441h-1ZM269 440h1V441h-1ZM270 439h1V440h-1ZM271 438h1V439h-1ZM272 438h1V439h-1ZM273 437h1V438h-1ZM274 436h1V437h-1ZM275 436h1V437h-1ZM276 435h1V436h-1ZM277 434h1V435h-1ZM278 433h1V434h-1ZM279 432h1V433h-1ZM280 431h1V432h-1ZM281 430h1V431h-1ZM282 429h1V430h-1ZM283 428h1V429h-1ZM284 428h1V429h-1ZM285 427h1V428h-1ZM286 426h1V427h-1ZM287 426h1V427h-1ZM288 426h1V427h-1ZM289 425h1V426h-1ZM290 425h1V426h-1ZM291 425h1V426h-1ZM292 424h1V425h-1ZM293 424h1V425h-1ZM294 424h1V425h-1ZM295 424h1V425h-1ZM296 423h1V424h-1ZM297 423h1V424h-1ZM298 423h1V424h-1ZM299 423h1V424h-1ZM300 422h1V423h-1ZM301 422h1V423h-1ZM302 422h1V423h-1ZM303 422h1V423h-1ZM304 421h1V422h-1ZM305 421h1V422h-1ZM306 421h1V422h-1ZM307 421h1V422h-1ZM308 421h1V422h-1ZM309 421h1V422h-1ZM310 421h1V422h-1ZM311 421h1V422h-1ZM312 421h1V422h-1ZM313 421h1V422h-1ZM314 421h1V422h-1ZM315 421h1V422h-1ZM316 421h1V422h-1ZM317 421h1V422h-1ZM318 422h1V423h-1ZM319 422h1V423h-1ZM320 422h1V423h-1ZM321 422h1V423h-1ZM322 422h1V423h-1ZM323 422h1V423h-1ZM324 422h1V423h-1ZM325 422h1V423h-1ZM326 423h1V424h-1ZM327 423h1V424h-1ZM328 423h1V424h-1ZM329 423h1V424h-1ZM330 423h1V424h-1ZM331 423h1V424h-1ZM332 423h1V424h-1ZM333 423h1V424h-1ZM334 423h1V424h-1ZM335 424h1V425h-1ZM336 424h1V425h-1ZM337 424h1V425h-1ZM338 424h1V425h-1ZM339 424h1V425h-1ZM340 424h1V425h-1ZM341 424h1V425h-1ZM342 425h1V426h-1ZM343 425h1V426h-1ZM344 425h1V426h-1ZM345 425h1V426h-1ZM346 425h1V426h-1ZM347 425h1V426h-1ZM348 425h1V426h-1ZM349 425h1V426h-1ZM350 425h1V426h-1ZM351 425h1V426h-1ZM352 425h1V426h-1ZM353 426h1V427h-1ZM354 426h1V427h-1ZM355 426h1V427h-1ZM356 425h1V426h-1ZM357 425h1V426h-1ZM358 425h1V426h-1ZM359 425h1V426h-1ZM360 425h1V426h-1ZM361 425h1V426h-1ZM362 425h1V426h-1ZM363 425h1V426h-1ZM364 425h1V426h-1ZM365 425h1V426h-1ZM366 425h1V426h-1ZM367 425h1V426h-1ZM368 425h1V426h-1ZM369 425h1V426h-1ZM370 424h1V425h-1ZM371 424h1V425h-1ZM372 424h1V425h-1ZM373 424h1V425h-1ZM374 424h1V425h-1ZM375 424h1V425h-1ZM376 424h1V425h-1ZM377 424h1V425h-1ZM378 424h1V425h-1ZM379 423h1V424h-1ZM380 423h1V424h-1ZM381 423h1V424h-1ZM382 423h1V424h-1ZM383 423h1V424h-1ZM384 423h1V424h-1ZM385 422h1V423h-1ZM386 422h1V423h-1ZM387 422h1V423h-1ZM388 422h1V423h-1ZM389 422h1V423h-1ZM390 421h1V422h-1ZM391 421h1V422h-1ZM392 421h1V422h-1ZM393 420h1V421h-1ZM394 420h1V421h-1ZM395 419h1V420h-1ZM396 419h1V420h-1ZM397 418h1V419h-1ZM398 418h1V419h-1ZM399 417h1V418h-1ZM400 417h1V418h-1ZM401 416h1V417h-1ZM402 416h1V417h-1ZM403 416h1V417h-1ZM404 416h1V417h-1ZM405 416h1V417h-1ZM406 415h1V416h-1ZM407 415h1V416h-1ZM408 415h1V416h-1ZM409 415h1V416h-1ZM410 415h1V416h-1ZM411 415h1V416h-1ZM412 415h1V416h-1ZM413 415h1V416h-1ZM414 415h1V416h-1ZM415 415h1V416h-1ZM416 416h1V417h-1ZM417 416h1V417h-1ZM418 416h1V417h-1ZM419 416h1V417h-1ZM420 416h1V417h-1ZM421 417h1V418h-1ZM422 417h1V418h-1ZM423 417h1V418h-1ZM424 418h1V419h-1ZM425 418h1V419h-1ZM426 419h1V420h-1ZM427 419h1V420h-1ZM428 420h1V421h-1ZM429 421h1V422h-1ZM430 422h1V423h-1ZM431 423h1V424h-1ZM432 424h1V425h-1ZM433 425h1V426h-1ZM434 426h1V427h-1ZM435 427h1V428h-1ZM436 428h1V429h-1ZM437 429h1V430h-1ZM438 430h1V431h-1ZM439 431h1V432h-1ZM440 432h1V433h-1ZM441 432h1V433h-1ZM442 433h1V434h-1ZM443 433h1V434h-1ZM444 433h1V434h-1ZM445 433h1V434h-1ZM446 433h1V434h-1ZM447 433h1V434h-1ZM448 432h1V433h-1ZM449 431h1V432h-1ZM450 431h1V432h-1ZM451 430h1V431h-1ZM452 429h1V430h-1ZM453 429h1V430h-1ZM454 428h1V429h-1ZM455 428h1V429h-1ZM456 428h1V429h-1ZM457 428h1V429h-1ZM458 428h1V429h-1ZM459 428h1V429h-1ZM460 428h1V429h-1ZM461 428h1V429h-1ZM462 428h1V429h-1ZM463 429h1V430h-1ZM464 429h1V430h-1ZM465 429h1V430h-1ZM466 429h1V430h-1ZM467 429h1V430h-1ZM468 429h1V430h-1ZM469 429h1V430h-1ZM470 429h1V430h-1ZM471 429h1V430h-1ZM472 429h1V430h-1ZM473 429h1V430h-1ZM474 428h1V429h-1ZM475 428h1V429h-1ZM476 428h1V429h-1ZM477 428h1V429h-1ZM478 427h1V428h-1ZM479 427h1V428h-1ZM480 427h1V428h-1ZM481 426h1V427h-1ZM482 426h1V427h-1ZM483 425h1V426h-1ZM484 425h1V426h-1ZM485 424h1V425h-1ZM486 423h1V424h-1ZM487 423h1V424h-1ZM488 422h1V423h-1ZM489 422h1V423h-1ZM490 421h1V422h-1ZM491 420h1V421h-1ZM492 420h1V421h-1ZM493 420h1V421h-1ZM494 419h1V420h-1ZM495 419h1V420h-1ZM496 419h1V420h-1ZM497 419h1V420h-1ZM498 419h1V420h-1ZM499 419h1V420h-1ZM500 419h1V420h-1ZM501 420h1V421h-1ZM502 420h1V421h-1ZM503 420h1V421h-1ZM504 421h1V422h-1ZM505 421h1V422h-1ZM506 421h1V422h-1ZM507 421h1V422h-1ZM508 422h1V423h-1ZM509 422h1V423h-1ZM510 422h1V423h-1ZM511 422h1V423h-1ZM512 422h1V423h-1ZM513 422h1V423h-1ZM514 422h1V423h-1ZM515 423h1V424h-1ZM516 423h1V424h-1ZM517 423h1V424h-1ZM518 423h1V424h-1ZM519 423h1V424h-1ZM520 423h1V424h-1ZM521 423h1V424h-1ZM522 423h1V424h-1ZM523 423h1V424h-1ZM524 423h1V424h-1ZM525 423h1V424h-1ZM526 424h1V425h-1ZM527 424h1V425h-1ZM528 424h1V425h-1ZM529 424h1V425h-1ZM530 424h1V425h-1ZM531 424h1V425h-1ZM532 424h1V425h-1ZM533 424h1V425h-1ZM534 424h1V425h-1ZM535 424h1V425h-1ZM536 424h1V425h-1ZM537 424h1V425h-1ZM538 424h1V425h-1ZM539 424h1V425h-1ZM540 424h1V425h-1ZM541 424h1V425h-1ZM542 424h1V425h-1ZM543 424h1V425h-1ZM544 424h1V425h-1ZM545 424h1V425h-1ZM546 424h1V425h-1ZM547 424h1V425h-1ZM548 424h1V425h-1ZM549 424h1V425h-1ZM550 423h1V424h-1ZM551 423h1V424h-1ZM552 423h1V424h-1ZM553 423h1V424h-1ZM554 423h1V424h-1ZM555 423h1V424h-1ZM556 423h1V424h-1ZM557 423h1V424h-1ZM558 423h1V424h-1ZM559 423h1V424h-1ZM560 423h1V424h-1ZM561 422h1V423h-1ZM562 422h1V423h-1ZM563 422h1V423h-1ZM564 422h1V423h-1ZM565 422h1V423h-1ZM566 422h1V423h-1ZM567 422h1V423h-1ZM568 422h1V423h-1ZM569 422h1V423h-1ZM570 421h1V422h-1ZM571 421h1V422h-1ZM572 421h1V422h-1ZM573 421h1V422h-1ZM574 421h1V422h-1ZM575 421h1V422h-1ZM576 420h1V421h-1ZM577 420h1V421h-1ZM578 420h1V421h-1ZM579 420h1V421h-1ZM580 420h1V421h-1ZM581 420h1V421h-1ZM582 420h1V421h-1ZM583 419h1V420h-1ZM584 419h1V420h-1ZM585 419h1V420h-1ZM586 419h1V420h-1ZM587 419h1V420h-1ZM588 419h1V420h-1ZM589 419h1V420h-1ZM590 419h1V420h-1ZM591 419h1V420h-1ZM592 419h1V420h-1ZM593 419h1V420h-1ZM594 419h1V420h-1ZM595 419h1V420h-1ZM596 420h1V421h-1ZM597 420h1V421h-1ZM598 421h1V422h-1ZM599 422h1V423h-1ZM600 423h1V424h-1ZM601 424h1V425h-1ZM602 425h1V427h-1ZM603 427h1V429h-1ZM604 429h1V430h-1ZM605 430h1V432h-1ZM606 432h1V435h-1ZM607 435h1V437h-1ZM608 437h1V439h-1ZM609 439h1V442h-1ZM610 442h1V444h-1ZM611 444h1V446h-1ZM612 446h1V449h-1ZM613 449h1V450h-1ZM614 450h1V452h-1ZM615 452h1V453h-1ZM616 453h1V454h-1ZM617 454h1V455h-1ZM618 455h1V456h-1ZM619 456h1V457h-1ZM620 457h1V458h-1ZM621 457h1V458h-1ZM622 458h1V459h-1ZM623 458h1V459h-1ZM624 458h1V459h-1ZM625 458h1V459h-1ZM626 458h1V459h-1ZM627 458h1V459h-1ZM628 457h1V458h-1ZM629 456h1V457h-1ZM630 455h1V456h-1ZM631 454h1V455h-1ZM632 453h1V454h-1ZM633 452h1V453h-1ZM634 451h1V452h-1ZM635 450h1V451h-1ZM636 449h1V450h-1ZM637 448h1V449h-1ZM638 447h1V448h-1ZM639 446h1V447h-1ZM640 445h1V446h-1ZM641 444h1V445h-1ZM642 444h1V445h-1ZM643 443h1V444h-1ZM644 443h1V444h-1ZM645 442h1V443h-1ZM646 442h1V443h-1ZM647 441h1V442h-1ZM648 441h1V442h-1ZM649 440h1V441h-1ZM650 440h1V441h-1ZM651 439h1V440h-1ZM652 439h1V440h-1ZM653 438h1V439h-1ZM654 438h1V439h-1ZM655 438h1V439h-1ZM656 437h1V438h-1ZM657 437h1V438h-1ZM658 436h1V437h-1ZM659 436h1V437h-1ZM660 435h1V436h-1ZM661 435h1V436h-1ZM662 435h1V436h-1ZM663 434h1V435h-1ZM664 434h1V435h-1ZM665 433h1V434h-1ZM666 432h1V433h-1ZM667 432h1V433h-1ZM668 431h1V432h-1ZM669 430h1V431h-1ZM670 429h1V430h-1ZM671 428h1V429h-1ZM672 428h1V429h-1ZM673 427h1V428h-1ZM674 426h1V427h-1ZM675 425h1V426h-1ZM676 425h1V426h-1ZM677 424h1V425h-1ZM678 423h1V424h-1ZM679 423h1V424h-1ZM680 422h1V423h-1ZM681 422h1V423h-1ZM682 421h1V422h-1ZM683 421h1V422h-1ZM684 420h1V421h-1ZM685 420h1V421h-1ZM686 419h1V420h-1ZM687 419h1V420h-1ZM688 418h1V419h-1ZM689 418h1V419h-1ZM690 418h1V419h-1ZM691 417h1V418h-1ZM692 417h1V418h-1ZM693 417h1V418h-1ZM694 417h1V418h-1ZM695 417h1V418h-1ZM696 417h1V418h-1ZM697 417h1V418h-1ZM698 417h1V418h-1ZM699 418h1V419h-1ZM700 418h1V419h-1ZM701 419h1V420h-1ZM702 419h1V420h-1ZM703 420h1V421h-1ZM704 420h1V421h-1ZM705 421h1V422h-1ZM706 422h1V423h-1ZM707 422h1V423h-1ZM708 423h1V424h-1ZM709 423h1V424h-1ZM710 424h1V425h-1ZM711 425h1V426h-1ZM712 425h1V426h-1ZM713 426h1V427h-1ZM714 426h1V427h-1ZM715 427h1V428h-1ZM716 427h1V428h-1ZM717 428h1V429h-1ZM718 429h1V430h-1ZM719 429h1V430h-1ZM720 430h1V431h-1ZM721 430h1V431h-1ZM722 431h1V432h-1ZM723 431h1V432h-1ZM724 432h1V433h-1ZM725 433h1V434h-1ZM726 433h1V434h-1ZM727 434h1V435h-1ZM728 434h1V435h-1ZM729 435h1V436h-1ZM730 435h1V436h-1ZM731 436h1V437h-1ZM732 436h1V437h-1ZM733 436h1V437h-1ZM734 437h1V438h-1ZM735 437h1V438h-1ZM736 437h1V438h-1ZM737 437h1V438h-1ZM738 437h1V438h-1ZM739 437h1V438h-1ZM740 437h1V438h-1ZM741 437h1V438h-1ZM742 437h1V438h-1ZM743 437h1V438h-1ZM744 436h1V437h-1ZM745 436h1V437h-1ZM746 435h1V436h-1ZM747 435h1V436h-1ZM748 435h1V436h-1ZM749 434h1V435h-1ZM750 434h1V435h-1ZM751 434h1V435h-1ZM752 433h1V434h-1ZM753 433h1V434h-1ZM754 433h1V434h-1ZM755 433h1V434h-1ZM756 432h1V433h-1ZM757 432h1V433h-1ZM758 432h1V433h-1ZM759 431h1V432h-1ZM760 431h1V432h-1ZM761 431h1V432h-1ZM762 431h1V432h-1ZM763 431h1V432h-1ZM764 430h1V431h-1ZM765 430h1V431h-1ZM766 431h1V432h-1ZM767 431h1V432h-1ZM768 431h1V432h-1ZM769 431h1V432h-1ZM770 431h1V432h-1ZM771 432h1V433h-1ZM772 432h1V433h-1ZM773 432h1V433h-1ZM774 433h1V434h-1ZM775 433h1V434h-1ZM776 433h1V434h-1ZM777 434h1V435h-1ZM778 434h1V435h-1ZM779 434h1V435h-1ZM780 435h1V436h-1ZM781 435h1V436h-1ZM782 435h1V436h-1ZM783 435h1V436h-1ZM784 435h1V436h-1ZM785 435h1V436h-1ZM786 435h1V436h-1ZM787 435h1V436h-1ZM788 435h1V436h-1ZM789 434h1V435h-1ZM790 434h1V435h-1ZM791 434h1V435h-1ZM792 433h1V434h-1ZM793 433h1V434h-1ZM794 432h1V433h-1ZM795 432h1V433h-1ZM796 432h1V433h-1ZM797 431h1V432h-1ZM798 431h1V432h-1ZM799 430h1V431h-1ZM800 430h1V431h-1ZM801 429h1V430h-1ZM802 429h1V430h-1ZM803 429h1V430h-1ZM804 428h1V429h-1ZM805 428h1V429h-1ZM806 428h1V429h-1ZM807 427h1V428h-1ZM808 427h1V428h-1ZM809 427h1V428h-1ZM810 427h1V428h-1ZM811 426h1V427h-1ZM812 426h1V427h-1ZM813 426h1V427h-1ZM814 426h1V427h-1ZM815 426h1V427h-1ZM816 425h1V426h-1ZM817 425h1V426h-1ZM818 425h1V426h-1ZM819 425h1V426h-1ZM820 425h1V426h-1ZM821 424h1V425h-1ZM822 424h1V425h-1ZM823 424h1V425h-1ZM824 424h1V425h-1ZM825 424h1V425h-1ZM826 424h1V425h-1ZM827 424h1V425h-1ZM828 424h1V425h-1ZM829 424h1V425h-1ZM830 424h1V425h-1ZM831 424h1V425h-1ZM832 425h1V426h-1ZM833 425h1V426h-1ZM834 425h1V426h-1ZM835 426h1V427h-1ZM836 426h1V427h-1ZM837 426h1V427h-1ZM838 426h1V427h-1ZM839 427h1V428h-1ZM840 427h1V428h-1ZM841 428h1V429h-1ZM842 428h1V429h-1ZM843 428h1V429h-1ZM844 429h1V430h-1ZM845 429h1V430h-1ZM846 430h1V431h-1ZM847 430h1V431h-1ZM848 431h1V432h-1ZM849 431h1V432h-1ZM850 432h1V433h-1ZM851 432h1V433h-1ZM852 433h1V434h-1ZM853 434h1V435h-1ZM854 434h1V435h-1ZM855 435h1V436h-1ZM856 436h1V437h-1ZM857 437h1V438h-1ZM858 438h1V439h-1ZM859 439h1V440h-1ZM860 440h1V442h-1ZM861 442h1V444h-1ZM862 444h1V445h-1ZM863 445h1V447h-1ZM864 447h1V449h-1ZM865 449h1V451h-1ZM866 451h1V453h-1ZM867 453h1V455h-1ZM868 455h1V457h-1ZM869 457h1V458h-1ZM870 458h1V459h-1ZM871 459h1V461h-1ZM872 461h1V462h-1ZM873 462h1V464h-1ZM874 464h1V465h-1ZM875 465h1V466h-1ZM876 466h1V468h-1ZM877 468h1V469h-1ZM878 468h1V469h-1ZM879 469h1V470h-1ZM880 470h1V471h-1ZM881 470h1V471h-1ZM882 470h1V471h-1ZM883 469h1V470h-1ZM884 469h1V470h-1ZM885 468h1V469h-1ZM886 466h1V468h-1ZM887 465h1V466h-1ZM888 464h1V465h-1ZM889 462h1V464h-1ZM890 461h1V462h-1ZM891 460h1V461h-1ZM892 458h1V460h-1ZM893 457h1V458h-1ZM894 456h1V457h-1ZM895 455h1V456h-1ZM896 454h1V455h-1ZM897 453h1V454h-1ZM898 451h1V453h-1ZM899 450h1V451h-1ZM900 449h1V450h-1ZM901 448h1V449h-1ZM902 447h1V448h-1ZM903 445h1V447h-1ZM904 444h1V445h-1ZM905 443h1V444h-1ZM906 442h1V443h-1ZM907 441h1V442h-1ZM908 440h1V441h-1ZM909 439h1V440h-1ZM910 438h1V439h-1ZM911 437h1V438h-1ZM912 436h1V437h-1ZM913 435h1V436h-1ZM914 434h1V435h-1ZM915 432h1V434h-1ZM916 431h1V432h-1ZM917 430h1V431h-1ZM918 430h1V431h-1ZM919 429h1V430h-1ZM920 428h1V429h-1ZM921 427h1V428h-1ZM922 426h1V427h-1ZM923 425h1V426h-1ZM924 424h1V425h-1ZM925 424h1V425h-1ZM926 423h1V424h-1ZM927 422h1V423h-1ZM928 422h1V423h-1ZM929 421h1V422h-1ZM930 421h1V422h-1ZM931 421h1V422h-1ZM932 421h1V422h-1ZM933 421h1V422h-1ZM934 421h1V422h-1ZM935 422h1V423h-1ZM936 422h1V423h-1ZM937 423h1V424h-1ZM938 423h1V424h-1ZM939 424h1V425h-1ZM940 425h1V426h-1ZM941 425h1V426h-1ZM942 426h1V427h-1ZM943 427h1V428h-1ZM944 427h1V428h-1ZM945 428h1V429h-1ZM946 429h1V430h-1ZM947 429h1V430h-1ZM948 430h1V431h-1ZM949 431h1V432h-1ZM950 432h1V433h-1ZM951 433h1V434h-1ZM952 434h1V435h-1ZM953 435h1V436h-1ZM954 435h1V436h-1ZM955 436h1V437h-1ZM956 437h1V438h-1ZM957 438h1V439h-1ZM958 438h1V439h-1ZM959 439h1V440h-1ZM960 439h1V440h-1ZM961 439h1V440h-1ZM962 439h1V440h-1ZM963 439h1V440h-1ZM964 438h1V439h-1ZM965 438h1V439h-1ZM966 438h1V439h-1ZM967 437h1V438h-1ZM968 436h1V437h-1ZM969 435h1V436h-1ZM970 434h1V435h-1ZM971 433h1V434h-1ZM972 432h1V433h-1ZM973 432h1V433h-1ZM974 431h1V432h-1ZM975 430h1V431h-1ZM976 429h1V430h-1ZM977 429h1V430h-1ZM978 428h1V429h-1ZM979 428h1V429h-1ZM980 427h1V428h-1ZM981 427h1V428h-1ZM982 427h1V428h-1ZM983 426h1V427h-1ZM984 426h1V427h-1ZM985 426h1V427h-1ZM986 426h1V427h-1ZM987 426h1V427h-1ZM988 426h1V427h-1ZM989 426h1V427h-1ZM990 426h1V427h-1ZM991 427h1V428h-1ZM992 427h1V428h-1ZM993 427h1V428h-1ZM994 428h1V429h-1ZM995 428h1V429h-1ZM996 428h1V429h-1ZM997 428h1V429h-1ZM998 429h1V430h-1ZM999 429h1V430h-1ZM1000 429h1V430h-1ZM1001 429h1V430h-1ZM1002 429h1V430h-1ZM1003 429h1V430h-1ZM1004 428h1V429h-1ZM1005 428h1V429h-1ZM1006 428h1V429h-1ZM1007 428h1V429h-1ZM1008 428h1V429h-1ZM1009 428h1V429h-1ZM1010 428h1V429h-1ZM1011 428h1V429h-1ZM1012 428h1V429h-1ZM1013 428h1V429h-1ZM1014 428h1V429h-1ZM1015 428h1V429h-1ZM1016 428h1V429h-1ZM1017 428h1V429h-1ZM1018 428h1V429h-1ZM1019 428h1V429h-1ZM1020 428h1V429h-1ZM1021 427h1V428h-1ZM1022 427h1V428h-1ZM1023 427h1V428h-1ZM1024 427h1V428h-1ZM1025 427h1V428h-1ZM1026 427h1V428h-1ZM1027 427h1V428h-1ZM1028 426h1V427h-1ZM1029 426h1V427h-1ZM1030 426h1V427h-1ZM1031 426h1V427h-1ZM1032 426h1V427h-1ZM1033 426h1V427h-1ZM1034 425h1V426h-1ZM1035 425h1V426h-1ZM1036 425h1V426h-1ZM1037 425h1V426h-1ZM1038 425h1V426h-1ZM1039 425h1V426h-1ZM1040 425h1V426h-1ZM1041 425h1V426h-1ZM1042 425h1V426h-1Z" fill="#ff0000" shape-rendering="crispEdges"/><path d="M6 512h1V513h-1ZM7 511h1V512h-1ZM8 511h1V512h-1ZM9 510h1V511h-1ZM10 509h1V511h-1ZM11 508h1V509h-1ZM12 507h1V508h-1ZM13 506h1V507h-1ZM14 505h1V506h-1ZM15 504h1V505h-1ZM16 504h1V506h-1ZM17 506h1V508h-1ZM18 508h1V510h-1ZM19 510h1V511h-1ZM20 511h1V512h-1ZM21 511h1V512h-1ZM22 511h1V516h-1ZM23 516h1V520h-1ZM24 520h1V524h-1ZM25 524h1V527h-1ZM26 527h1V528h-1ZM27 528h1V529h-1ZM28 528h1V529h-1ZM29 527h1V528h-1ZM30 526h1V527h-1ZM31 527h1V528h-1ZM32 528h1V529h-1ZM33 528h1V529h-1ZM34 527h1V528h-1ZM35 527h1V528h-1ZM36 527h1V528h-1ZM37 528h1V529h-1ZM38 528h1V529h-1ZM39 526h1V528h-1ZM40 525h1V526h-1ZM41 524h1V525h-1ZM42 524h1V525h-1ZM43 523h1V524h-1ZM44 523h1V524h-1ZM45 524h1V525h-1ZM46 524h1V525h-1ZM47 525h1V526h-1ZM48 525h1V526h-1ZM49 526h1V527h-1ZM50 525h1V527h-1ZM51 524h1V525h-1ZM52 523h1V524h-1ZM53 522h1V523h-1ZM54 522h1V523h-1ZM55 521h1V522h-1ZM56 518h1V521h-1ZM57 516h1V518h-1ZM58 515h1V516h-1ZM59 513h1V515h-1ZM60 512h1V514h-1ZM61 514h1V516h-1ZM62 516h1V517h-1ZM63 517h1V518h-1ZM64 516h1V518h-1ZM65 514h1V516h-1ZM66 513h1V514h-1ZM67 513h1V514h-1ZM68 512h1V513h-1ZM69 511h1V512h-1ZM70 510h1V511h-1ZM71 509h1V510h-1ZM72 509h1V510h-1ZM73 508h1V509h-1ZM74 507h1V508h-1ZM75 506h1V507h-1ZM76 506h1V507h-1ZM77 506h1V507h-1ZM78 505h1V508h-1ZM79 508h1V511h-1ZM80 511h1V512h-1ZM81 511h1V512h-1ZM82 511h1V512h-1ZM83 512h1V513h-1ZM84 513h1V514h-1ZM85 512h1V513h-1ZM86 511h1V512h-1ZM87 512h1V513h-1ZM88 513h1V514h-1ZM89 513h1V514h-1ZM90 512h1V513h-1ZM91 513h1V514h-1ZM92 513h1V515h-1ZM93 515h1V517h-1ZM94 517h1V518h-1ZM95 518h1V519h-1ZM96 518h1V520h-1ZM97 516h1V518h-1ZM98 515h1V516h-1ZM99 516h1V517h-1ZM100 517h1V518h-1ZM101 517h1V518h-1ZM102 517h1V518h-1ZM103 517h1V518h-1ZM104 516h1V518h-1ZM105 515h1V516h-1ZM106 513h1V515h-1ZM107 512h1V513h-1ZM108 511h1V512h-1ZM109 510h1V511h-1ZM110 509h1V510h-1ZM111 510h1V511h-1ZM112 511h1V512h-1ZM113 511h1V512h-1ZM114 511h1V512h-1ZM115 511h1V512h-1ZM116 511h1V512h-1ZM117 510h1V511h-1ZM118 510h1V511h-1ZM119 511h1V512h-1ZM120 512h1V513h-1ZM121 513h1V514h-1ZM122 514h1V515h-1ZM123 514h1V515h-1ZM124 514h1V515h-1ZM125 515h1V516h-1ZM126 516h1V517h-1ZM127 514h1V516h-1ZM128 513h1V515h-1ZM129 515h1V516h-1ZM130 516h1V517h-1ZM131 517h1V518h-1ZM132 517h1V519h-1ZM133 516h1V517h-1ZM134 515h1V516h-1ZM135 514h1V515h-1ZM136 514h1V515h-1ZM137 515h1V516h-1ZM138 515h1V517h-1ZM139 513h1V515h-1ZM140 512h1V513h-1ZM141 513h1V514h-1ZM142 514h1V515h-1ZM143 513h1V514h-1ZM144 512h1V513h-1ZM145 511h1V512h-1ZM146 510h1V512h-1ZM147 508h1V510h-1ZM148 507h1V508h-1ZM149 506h1V507h-1ZM150 505h1V506h-1ZM151 505h1V506h-1ZM152 505h1V506h-1ZM153 506h1V508h-1ZM154 508h1V509h-1ZM155 508h1V509h-1ZM156 507h1V508h-1ZM157 508h1V509h-1ZM158 508h1V510h-1ZM159 510h1V511h-1ZM160 511h1V512h-1ZM161 511h1V512h-1ZM162 511h1V513h-1ZM163 510h1V511h-1ZM164 509h1V510h-1ZM165 509h1V510h-1ZM166 509h1V510h-1ZM167 509h1V510h-1ZM168 509h1V510h-1ZM169 509h1V510h-1ZM170 510h1V511h-1ZM171 509h1V510h-1ZM172 508h1V509h-1ZM173 507h1V508h-1ZM174 507h1V508h-1ZM175 507h1V508h-1ZM176 508h1V509h-1ZM177 507h1V508h-1ZM178 506h1V508h-1ZM179 508h1V510h-1ZM180 510h1V515h-1ZM181 515h1V520h-1ZM182 520h1V523h-1ZM183 523h1V526h-1ZM184 525h1V527h-1ZM185 523h1V525h-1ZM186 522h1V523h-1ZM187 521h1V522h-1ZM188 521h1V522h-1ZM189 521h1V522h-1ZM190 520h1V521h-1ZM191 519h1V520h-1ZM192 518h1V519h-1ZM193 518h1V519h-1ZM194 519h1V520h-1ZM195 520h1V521h-1ZM196 520h1V522h-1ZM197 518h1V520h-1ZM198 517h1V518h-1ZM199 518h1V519h-1ZM200 519h1V520h-1ZM201 520h1V521h-1ZM202 520h1V521h-1ZM203 520h1V521h-1ZM204 518h1V521h-1ZM205 516h1V518h-1ZM206 513h1V516h-1ZM207 511h1V513h-1ZM208 510h1V511h-1ZM209 510h1V511h-1ZM210 511h1V512h-1ZM211 511h1V512h-1ZM212 511h1V512h-1ZM213 510h1V511h-1ZM214 509h1V510h-1ZM215 509h1V510h-1ZM216 508h1V509h-1ZM217 507h1V508h-1ZM218 507h1V508h-1ZM219 508h1V509h-1ZM220 509h1V511h-1ZM221 511h1V513h-1ZM222 513h1V514h-1ZM223 514h1V515h-1ZM224 515h1V516h-1ZM225 516h1V517h-1ZM226 517h1V518h-1ZM227 516h1V517h-1ZM228 515h1V516h-1ZM229 516h1V517h-1ZM230 516h1V517h-1ZM231 516h1V517h-1ZM232 517h1V518h-1ZM233 517h1V518h-1ZM234 517h1V518h-1ZM235 517h1V518h-1ZM236 518h1V519h-1ZM237 519h1V520h-1ZM238 520h1V521h-1ZM239 519h1V520h-1ZM240 518h1V519h-1ZM241 519h1V520h-1ZM242 520h1V521h-1ZM243 519h1V520h-1ZM244 519h1V520h-1ZM245 520h1V521h-1ZM246 521h1V522h-1ZM247 522h1V523h-1ZM248 523h1V524h-1ZM249 523h1V524h-1ZM250 524h1V525h-1ZM251 524h1V525h-1ZM252 524h1V525h-1ZM253 524h1V525h-1ZM254 524h1V525h-1ZM255 524h1V525h-1ZM256 523h1V524h-1ZM257 523h1V524h-1ZM258 522h1V523h-1ZM259 522h1V523h-1ZM260 520h1V522h-1ZM261 518h1V520h-1ZM262 516h1V518h-1ZM263 515h1V516h-1ZM264 514h1V515h-1ZM265 513h1V514h-1ZM266 512h1V513h-1ZM267 511h1V512h-1ZM268 511h1V512h-1ZM269 511h1V512h-1ZM270 511h1V512h-1ZM271 511h1V512h-1ZM272 511h1V512h-1ZM273 510h1V511h-1ZM274 510h1V511h-1ZM275 510h1V511h-1ZM276 510h1V511h-1ZM277 510h1V511h-1ZM278 510h1V511h-1ZM279 510h1V511h-1ZM280 510h1V511h-1ZM281 511h1V512h-1ZM282 511h1V512h-1ZM283 512h1V513h-1ZM284 512h1V513h-1ZM285 510h1V512h-1ZM286 509h1V510h-1ZM287 509h1V510h-1ZM288 510h1V511h-1ZM289 510h1V511h-1ZM290 509h1V511h-1ZM291 506h1V509h-1ZM292 505h1V506h-1ZM293 505h1V506h-1ZM294 505h1V507h-1ZM295 507h1V508h-1ZM296 508h1V509h-1ZM297 509h1V511h-1ZM298 511h1V512h-1ZM299 512h1V513h-1ZM300 512h1V513h-1ZM301 512h1V513h-1ZM302 511h1V512h-1ZM303 511h1V512h-1ZM304 511h1V512h-1ZM305 510h1V511h-1ZM306 509h1V510h-1ZM307 508h1V509h-1ZM308 507h1V508h-1ZM309 507h1V508h-1ZM310 506h1V507h-1ZM311 507h1V509h-1ZM312 509h1V510h-1ZM313 509h1V510h-1ZM314 509h1V511h-1ZM315 511h1V512h-1ZM316 512h1V513h-1ZM317 513h1V514h-1ZM318 514h1V515h-1ZM319 514h1V515h-1ZM320 513h1V514h-1ZM321 513h1V514h-1ZM322 512h1V513h-1ZM323 511h1V512h-1ZM324 510h1V511h-1ZM325 511h1V512h-1ZM326 511h1V512h-1ZM327 509h1V511h-1ZM328 508h1V509h-1ZM329 508h1V509h-1ZM330 509h1V510h-1ZM331 510h1V511h-1ZM332 510h1V511h-1ZM333 511h1V512h-1ZM334 511h1V512h-1ZM335 512h1V513h-1ZM336 511h1V513h-1ZM337 510h1V511h-1ZM338 509h1V510h-1ZM339 510h1V511h-1ZM340 511h1V512h-1ZM341 511h1V512h-1ZM342 510h1V511h-1ZM343 510h1V511h-1ZM344 510h1V512h-1ZM345 512h1V514h-1ZM346 514h1V515h-1ZM347 514h1V515h-1ZM348 514h1V515h-1ZM349 515h1V516h-1ZM350 513h1V516h-1ZM351 510h1V513h-1ZM352 509h1V510h-1ZM353 509h1V510h-1ZM354 508h1V511h-1ZM355 505h1V508h-1ZM356 504h1V505h-1ZM357 504h1V505h-1ZM358 504h1V505h-1ZM359 502h1V504h-1ZM360 501h1V505h-1ZM361 505h1V509h-1ZM362 509h1V510h-1ZM363 510h1V511h-1ZM364 511h1V512h-1ZM365 511h1V512h-1ZM366 511h1V512h-1ZM367 511h1V512h-1ZM368 510h1V511h-1ZM369 510h1V511h-1ZM370 510h1V511h-1ZM371 510h1V512h-1ZM372 512h1V513h-1ZM373 513h1V514h-1ZM374 514h1V515h-1ZM375 514h1V515h-1ZM376 514h1V515h-1ZM377 514h1V515h-1ZM378 513h1V515h-1ZM379 511h1V513h-1ZM380 510h1V511h-1ZM381 511h1V512h-1ZM382 512h1V513h-1ZM383 511h1V512h-1ZM384 510h1V512h-1ZM385 508h1V510h-1ZM386 507h1V508h-1ZM387 505h1V507h-1ZM388 503h1V505h-1ZM389 501h1V503h-1ZM390 500h1V503h-1ZM391 503h1V506h-1ZM392 506h1V507h-1ZM393 505h1V506h-1ZM394 505h1V506h-1ZM395 505h1V506h-1ZM396 504h1V505h-1ZM397 505h1V506h-1ZM398 506h1V507h-1ZM399 506h1V507h-1ZM400 505h1V506h-1ZM401 506h1V507h-1ZM402 506h1V508h-1ZM403 508h1V509h-1ZM404 509h1V511h-1ZM405 511h1V513h-1ZM406 513h1V514h-1ZM407 513h1V514h-1ZM408 513h1V514h-1ZM409 513h1V514h-1ZM410 511h1V513h-1ZM411 509h1V511h-1ZM412 508h1V509h-1ZM413 509h1V510h-1ZM414 510h1V511h-1ZM415 509h1V510h-1ZM416 509h1V510h-1ZM417 510h1V511h-1ZM418 510h1V511h-1ZM419 509h1V510h-1ZM420 508h1V510h-1ZM421 510h1V512h-1ZM422 512h1V515h-1ZM423 515h1V518h-1ZM424 518h1V522h-1ZM425 522h1V525h-1ZM426 525h1V526h-1ZM427 526h1V527h-1ZM428 525h1V528h-1ZM429 523h1V525h-1ZM430 522h1V523h-1ZM431 522h1V523h-1ZM432 521h1V523h-1ZM433 518h1V521h-1ZM434 517h1V518h-1ZM435 516h1V517h-1ZM436 515h1V516h-1ZM437 515h1V516h-1ZM438 515h1V516h-1ZM439 513h1V515h-1ZM440 512h1V513h-1ZM441 513h1V514h-1ZM442 514h1V515h-1ZM443 512h1V514h-1ZM444 511h1V513h-1ZM445 513h1V514h-1ZM446 514h1V515h-1ZM447 514h1V515h-1ZM448 514h1V515h-1ZM449 513h1V514h-1ZM450 512h1V513h-1ZM451 513h1V514h-1ZM452 514h1V515h-1ZM453 514h1V515h-1ZM454 515h1V517h-1ZM455 517h1V519h-1ZM456 519h1V520h-1ZM457 519h1V520h-1ZM458 518h1V519h-1ZM459 518h1V519h-1ZM460 518h1V519h-1ZM461 518h1V519h-1ZM462 518h1V519h-1ZM463 516h1V518h-1ZM464 515h1V516h-1ZM465 513h1V515h-1ZM466 512h1V513h-1ZM467 513h1V514h-1ZM468 513h1V514h-1ZM469 511h1V513h-1ZM470 510h1V511h-1ZM471 511h1V513h-1ZM472 513h1V514h-1ZM473 512h1V513h-1ZM474 511h1V512h-1ZM475 510h1V511h-1ZM476 509h1V510h-1ZM477 508h1V509h-1ZM478 508h1V509h-1ZM479 508h1V509h-1ZM480 508h1V509h-1ZM481 507h1V508h-1ZM482 506h1V507h-1ZM483 505h1V506h-1ZM484 504h1V505h-1ZM485 505h1V506h-1ZM486 505h1V506h-1ZM487 506h1V507h-1ZM488 506h1V508h-1ZM489 508h1V511h-1ZM490 511h1V513h-1ZM491 513h1V515h-1ZM492 515h1V516h-1ZM493 516h1V517h-1ZM494 517h1V518h-1ZM495 516h1V517h-1ZM496 514h1V517h-1ZM497 512h1V514h-1ZM498 511h1V512h-1ZM499 511h1V512h-1ZM500 511h1V513h-1ZM501 513h1V514h-1ZM502 514h1V515h-1ZM503 514h1V515h-1ZM504 513h1V515h-1ZM505 510h1V513h-1ZM506 509h1V510h-1ZM507 509h1V510h-1ZM508 509h1V510h-1ZM509 509h1V510h-1ZM510 509h1V510h-1ZM511 509h1V510h-1ZM512 509h1V510h-1ZM513 509h1V510h-1ZM514 509h1V510h-1ZM515 510h1V511h-1ZM516 510h1V511h-1ZM517 511h1V512h-1ZM518 512h1V513h-1ZM519 511h1V512h-1ZM520 510h1V511h-1ZM521 511h1V512h-1ZM522 512h1V513h-1ZM523 513h1V514h-1ZM524 514h1V515h-1ZM525 513h1V514h-1ZM526 511h1V513h-1ZM527 510h1V511h-1ZM528 509h1V510h-1ZM529 508h1V509h-1ZM530 508h1V509h-1ZM531 507h1V508h-1ZM532 507h1V508h-1ZM533 507h1V508h-1ZM534 507h1V508h-1ZM535 508h1V509h-1ZM536 509h1V510h-1ZM537 510h1V511h-1ZM538 509h1V511h-1ZM539 507h1V509h-1ZM540 506h1V508h-1ZM541 508h1V509h-1ZM542 509h1V510h-1ZM543 510h1V511h-1ZM544 510h1V512h-1ZM545 509h1V510h-1ZM546 507h1V509h-1ZM547 505h1V507h-1ZM548 504h1V505h-1ZM549 504h1V505h-1ZM550 504h1V507h-1ZM551 507h1V510h-1ZM552 510h1V512h-1ZM553 512h1V514h-1ZM554 514h1V515h-1ZM555 514h1V515h-1ZM556 514h1V515h-1ZM557 513h1V514h-1ZM558 512h1V513h-1ZM559 511h1V512h-1ZM560 511h1V512h-1ZM561 511h1V512h-1ZM562 510h1V511h-1ZM563 510h1V511h-1ZM564 509h1V510h-1ZM565 507h1V509h-1ZM566 506h1V507h-1ZM567 507h1V508h-1ZM568 507h1V508h-1ZM569 507h1V508h-1ZM570 506h1V507h-1ZM571 506h1V507h-1ZM572 507h1V508h-1ZM573 507h1V508h-1ZM574 507h1V508h-1ZM575 506h1V507h-1ZM576 506h1V507h-1ZM577 507h1V509h-1ZM578 509h1V510h-1ZM579 508h1V509h-1ZM580 507h1V508h-1ZM581 506h1V507h-1ZM582 505h1V506h-1ZM583 505h1V506h-1ZM584 505h1V506h-1ZM585 506h1V507h-1ZM586 507h1V508h-1ZM587 507h1V508h-1ZM588 507h1V508h-1ZM589 508h1V510h-1ZM590 510h1V511h-1ZM591 509h1V510h-1ZM592 509h1V510h-1ZM593 509h1V510h-1ZM594 509h1V513h-1ZM595 513h1V518h-1ZM596 518h1V521h-1ZM597 521h1V525h-1ZM598 525h1V527h-1ZM599 527h1V529h-1ZM600 529h1V530h-1ZM601 530h1V532h-1ZM602 532h1V533h-1ZM603 532h1V533h-1ZM604 533h1V534h-1ZM605 532h1V533h-1ZM606 531h1V532h-1ZM607 531h1V532h-1ZM608 531h1V533h-1ZM609 533h1V534h-1ZM610 534h1V535h-1ZM611 534h1V535h-1ZM612 533h1V536h-1ZM613 531h1V533h-1ZM614 527h1V531h-1ZM615 522h1V527h-1ZM616 521h1V522h-1ZM617 521h1V522h-1ZM618 521h1V522h-1ZM619 519h1V521h-1ZM620 518h1V519h-1ZM621 518h1V519h-1ZM622 518h1V519h-1ZM623 519h1V521h-1ZM624 521h1V522h-1ZM625 522h1V523h-1ZM626 522h1V523h-1ZM627 520h1V522h-1ZM628 519h1V520h-1ZM629 518h1V519h-1ZM630 518h1V519h-1ZM631 519h1V520h-1ZM632 519h1V520h-1ZM633 518h1V519h-1ZM634 517h1V518h-1ZM635 518h1V519h-1ZM636 518h1V519h-1ZM637 519h1V520h-1ZM638 519h1V520h-1ZM639 519h1V520h-1ZM640 519h1V520h-1ZM641 518h1V519h-1ZM642 517h1V518h-1ZM643 517h1V518h-1ZM644 517h1V518h-1ZM645 518h1V520h-1ZM646 520h1V521h-1ZM647 519h1V520h-1ZM648 518h1V519h-1ZM649 519h1V520h-1ZM650 519h1V520h-1ZM651 518h1V519h-1ZM652 516h1V518h-1ZM653 515h1V516h-1ZM654 514h1V515h-1ZM655 513h1V514h-1ZM656 513h1V514h-1ZM657 514h1V515h-1ZM658 515h1V516h-1ZM659 514h1V515h-1ZM660 513h1V514h-1ZM661 513h1V514h-1ZM662 511h1V513h-1ZM663 509h1V511h-1ZM664 508h1V509h-1ZM665 509h1V511h-1ZM666 511h1V512h-1ZM667 511h1V512h-1ZM668 511h1V512h-1ZM669 511h1V512h-1ZM670 510h1V511h-1ZM671 510h1V511h-1ZM672 509h1V510h-1ZM673 508h1V509h-1ZM674 507h1V508h-1ZM675 507h1V508h-1ZM676 505h1V507h-1ZM677 504h1V505h-1ZM678 503h1V504h-1ZM679 503h1V504h-1ZM680 504h1V505h-1ZM681 504h1V505h-1ZM682 504h1V505h-1ZM683 504h1V505h-1ZM684 503h1V504h-1ZM685 504h1V505h-1ZM686 504h1V508h-1ZM687 508h1V511h-1ZM688 511h1V512h-1ZM689 511h1V512h-1ZM690 511h1V512h-1ZM691 511h1V512h-1ZM692 512h1V513h-1ZM693 512h1V513h-1ZM694 513h1V514h-1ZM695 513h1V514h-1ZM696 514h1V515h-1ZM697 515h1V516h-1ZM698 515h1V516h-1ZM699 515h1V516h-1ZM700 514h1V515h-1ZM701 514h1V515h-1ZM702 514h1V515h-1ZM703 515h1V516h-1ZM704 516h1V517h-1ZM705 515h1V516h-1ZM706 515h1V516h-1ZM707 515h1V516h-1ZM708 516h1V517h-1ZM709 517h1V519h-1ZM710 519h1V520h-1ZM711 520h1V522h-1ZM712 522h1V523h-1ZM713 523h1V525h-1ZM714 525h1V526h-1ZM715 524h1V525h-1ZM716 524h1V525h-1ZM717 523h1V524h-1ZM718 522h1V525h-1ZM719 525h1V528h-1ZM720 525h1V529h-1ZM721 522h1V525h-1ZM722 521h1V522h-1ZM723 519h1V521h-1ZM724 518h1V519h-1ZM725 516h1V518h-1ZM726 515h1V517h-1ZM727 517h1V518h-1ZM728 518h1V519h-1ZM729 519h1V520h-1ZM730 520h1V521h-1ZM731 521h1V522h-1ZM732 522h1V523h-1ZM733 522h1V523h-1ZM734 521h1V522h-1ZM735 520h1V521h-1ZM736 520h1V521h-1ZM737 519h1V520h-1ZM738 518h1V519h-1ZM739 517h1V518h-1ZM740 516h1V517h-1ZM741 516h1V517h-1ZM742 517h1V518h-1ZM743 517h1V518h-1ZM744 518h1V519h-1ZM745 517h1V518h-1ZM746 517h1V518h-1ZM747 516h1V517h-1ZM748 515h1V516h-1ZM749 515h1V516h-1ZM750 515h1V516h-1ZM751 515h1V516h-1ZM752 514h1V515h-1ZM753 514h1V515h-1ZM754 513h1V514h-1ZM755 513h1V514h-1ZM756 513h1V514h-1ZM757 513h1V514h-1ZM758 512h1V513h-1ZM759 513h1V514h-1ZM760 514h1V515h-1ZM761 515h1V516h-1ZM762 516h1V517h-1ZM763 517h1V518h-1ZM764 517h1V520h-1ZM765 520h1V522h-1ZM766 522h1V523h-1ZM767 523h1V524h-1ZM768 523h1V524h-1ZM769 523h1V524h-1ZM770 523h1V524h-1ZM771 522h1V523h-1ZM772 521h1V522h-1ZM773 520h1V521h-1ZM774 520h1V521h-1ZM775 520h1V521h-1ZM776 519h1V520h-1ZM777 520h1V521h-1ZM778 521h1V522h-1ZM779 520h1V521h-1ZM780 518h1V520h-1ZM781 516h1V518h-1ZM782 515h1V516h-1ZM783 515h1V516h-1ZM784 514h1V516h-1ZM785 512h1V514h-1ZM786 511h1V512h-1ZM787 511h1V512h-1ZM788 510h1V511h-1ZM789 509h1V510h-1ZM790 508h1V509h-1ZM791 509h1V511h-1ZM792 511h1V512h-1ZM793 512h1V513h-1ZM794 513h1V515h-1ZM795 515h1V517h-1ZM796 517h1V518h-1ZM797 516h1V517h-1ZM798 515h1V516h-1ZM799 515h1V516h-1ZM800 515h1V516h-1ZM801 514h1V515h-1ZM802 513h1V514h-1ZM803 512h1V513h-1ZM804 511h1V512h-1ZM805 512h1V513h-1ZM806 513h1V514h-1ZM807 513h1V514h-1ZM808 512h1V513h-1ZM809 512h1V513h-1ZM810 512h1V513h-1ZM811 510h1V512h-1ZM812 509h1V510h-1ZM813 507h1V509h-1ZM814 506h1V507h-1ZM815 507h1V508h-1ZM816 508h1V509h-1ZM817 509h1V510h-1ZM818 509h1V511h-1ZM819 508h1V509h-1ZM820 507h1V508h-1ZM821 507h1V508h-1ZM822 508h1V509h-1ZM823 508h1V509h-1ZM824 509h1V514h-1ZM825 514h1V519h-1ZM826 519h1V520h-1ZM827 520h1V521h-1ZM828 521h1V522h-1ZM829 520h1V521h-1ZM830 520h1V521h-1ZM831 519h1V520h-1ZM832 518h1V519h-1ZM833 518h1V519h-1ZM834 519h1V521h-1ZM835 521h1V522h-1ZM836 522h1V523h-1ZM837 522h1V523h-1ZM838 521h1V522h-1ZM839 519h1V521h-1ZM840 518h1V519h-1ZM841 518h1V519h-1ZM842 517h1V518h-1ZM843 517h1V518h-1ZM844 516h1V518h-1ZM845 514h1V516h-1ZM846 512h1V514h-1ZM847 509h1V512h-1ZM848 508h1V510h-1ZM849 510h1V512h-1ZM850 512h1V518h-1ZM851 518h1V523h-1ZM852 523h1V528h-1ZM853 528h1V532h-1ZM854 532h1V533h-1ZM855 532h1V533h-1ZM856 532h1V533h-1ZM857 532h1V533h-1ZM858 532h1V533h-1ZM859 532h1V533h-1ZM860 531h1V533h-1ZM861 533h1V534h-1ZM862 534h1V535h-1ZM863 535h1V536h-1ZM864 536h1V537h-1ZM865 537h1V538h-1ZM866 538h1V539h-1ZM867 537h1V538h-1ZM868 537h1V538h-1ZM869 536h1V537h-1ZM870 535h1V536h-1ZM871 533h1V535h-1ZM872 531h1V533h-1ZM873 529h1V531h-1ZM874 528h1V529h-1ZM875 526h1V528h-1ZM876 525h1V526h-1ZM877 524h1V525h-1ZM878 524h1V525h-1ZM879 525h1V526h-1ZM880 526h1V527h-1ZM881 526h1V527h-1ZM882 526h1V527h-1ZM883 525h1V526h-1ZM884 524h1V526h-1ZM885 522h1V524h-1ZM886 519h1V522h-1ZM887 517h1V519h-1ZM888 516h1V517h-1ZM889 515h1V516h-1ZM890 514h1V515h-1ZM891 513h1V514h-1ZM892 513h1V514h-1ZM893 514h1V515h-1ZM894 515h1V516h-1ZM895 516h1V517h-1ZM896 517h1V518h-1ZM897 518h1V520h-1ZM898 520h1V521h-1ZM899 519h1V520h-1ZM900 518h1V519h-1ZM901 519h1V520h-1ZM902 518h1V520h-1ZM903 516h1V518h-1ZM904 515h1V516h-1ZM905 516h1V517h-1ZM906 517h1V518h-1ZM907 517h1V518h-1ZM908 516h1V517h-1ZM909 515h1V516h-1ZM910 513h1V515h-1ZM911 511h1V513h-1ZM912 510h1V511h-1ZM913 510h1V511h-1ZM914 511h1V512h-1ZM915 510h1V511h-1ZM916 508h1V510h-1ZM917 507h1V508h-1ZM918 506h1V507h-1ZM919 507h1V508h-1ZM920 508h1V510h-1ZM921 510h1V512h-1ZM922 512h1V513h-1ZM923 512h1V513h-1ZM924 513h1V514h-1ZM925 512h1V513h-1ZM926 511h1V512h-1ZM927 511h1V512h-1ZM928 512h1V513h-1ZM929 513h1V514h-1ZM930 513h1V514h-1ZM931 513h1V514h-1ZM932 514h1V516h-1ZM933 516h1V518h-1ZM934 518h1V519h-1ZM935 519h1V520h-1ZM936 520h1V521h-1ZM937 521h1V522h-1ZM938 522h1V523h-1ZM939 523h1V524h-1ZM940 524h1V525h-1ZM941 524h1V525h-1ZM942 524h1V525h-1ZM943 525h1V526h-1ZM944 526h1V527h-1ZM945 525h1V526h-1ZM946 524h1V525h-1ZM947 525h1V526h-1ZM948 525h1V527h-1ZM949 523h1V525h-1ZM950 521h1V523h-1ZM951 520h1V521h-1ZM952 519h1V520h-1ZM953 518h1V519h-1ZM954 518h1V519h-1ZM955 518h1V519h-1ZM956 519h1V520h-1ZM957 518h1V519h-1ZM958 518h1V519h-1ZM959 516h1V518h-1ZM960 514h1V516h-1ZM961 512h1V514h-1ZM962 511h1V512h-1ZM963 510h1V511h-1ZM964 510h1V511h-1ZM965 509h1V510h-1ZM966 509h1V510h-1ZM967 510h1V511h-1ZM968 510h1V512h-1ZM969 512h1V513h-1ZM970 513h1V514h-1ZM971 513h1V514h-1ZM972 512h1V513h-1ZM973 513h1V514h-1ZM974 513h1V514h-1ZM975 513h1V514h-1ZM976 513h1V514h-1ZM977 513h1V514h-1ZM978 513h1V514h-1ZM979 513h1V514h-1ZM980 514h1V515h-1ZM981 515h1V517h-1ZM982 517h1V518h-1ZM983 516h1V517h-1ZM984 515h1V516h-1ZM985 516h1V517h-1ZM986 517h1V518h-1ZM987 516h1V517h-1ZM988 515h1V516h-1ZM989 514h1V515h-1ZM990 513h1V516h-1ZM991 516h1V518h-1ZM992 518h1V519h-1ZM993 518h1V519h-1ZM994 518h1V520h-1ZM995 516h1V518h-1ZM996 515h1V516h-1ZM997 515h1V516h-1ZM998 514h1V515h-1ZM999 515h1V516h-1ZM1000 515h1V517h-1ZM1001 514h1V515h-1ZM1002 513h1V514h-1ZM1003 512h1V513h-1ZM1004 511h1V513h-1ZM1005 510h1V511h-1ZM1006 509h1V510h-1ZM1007 510h1V511h-1ZM1008 510h1V514h-1ZM1009 514h1V517h-1ZM1010 517h1V518h-1ZM1011 517h1V518h-1ZM1012 516h1V517h-1ZM1013 517h1V518h-1ZM1014 517h1V518h-1ZM1015 517h1V518h-1ZM1016 517h1V518h-1ZM1017 517h1V518h-1ZM1018 516h1V517h-1ZM1019 514h1V516h-1ZM1020 512h1V514h-1ZM1021 510h1V512h-1ZM1022 509h1V510h-1ZM1023 509h1V510h-1ZM1024 508h1V509h-1ZM1025 508h1V509h-1ZM1026 507h1V510h-1ZM1027 510h1V513h-1ZM1028 513h1V514h-1ZM1029 513h1V514h-1ZM1030 513h1V514h-1ZM1031 513h1V514h-1ZM1032 514h1V515h-1ZM1033 514h1V515h-1ZM1034 515h1V516h-1ZM1035 515h1V516h-1ZM1036 515h1V518h-1ZM1037 518h1V520h-1ZM1038 520h1V521h-1ZM1039 519h1V520h-1ZM1040 519h1V520h-1ZM1041 519h1V520h-1ZM1042 518h1V519h-1Z" fill="#1e90ff" shape-rendering="crispEdges"/><path d="M18 196h1V245h-1ZM20 213h1V245h-1ZM22 225h1V240h-1ZM24 228h1V319h-1ZM26 304h1V367h-1ZM28 349h1V364h-1ZM30 356h1V398h-1ZM36 339h1V359h-1ZM38 351h1V380h-1ZM46 340h1V371h-1ZM48 365h1V391h-1ZM50 375h1V392h-1ZM62 309h1V339h-1ZM64 322h1V339h-1ZM66 323h1V338h-1ZM80 244h1V298h-1ZM86 270h1V318h-1ZM92 262h1V284h-1ZM94 287h1V315h-1ZM98 299h1V307h-1ZM100 301h1V310h-1ZM104 290h1V327h-1ZM110 255h1V281h-1ZM112 272h1V284h-1ZM120 257h1V276h-1ZM122 271h1V290h-1ZM124 277h1V290h-1ZM130 262h1V306h-1ZM136 277h1V305h-1ZM138 284h1V299h-1ZM152 230h1V249h-1ZM154 233h1V246h-1ZM156 233h1V253h-1ZM158 235h1V257h-1ZM160 239h1V250h-1ZM162 240h1V253h-1ZM170 213h1V236h-1ZM174 226h1V236h-1ZM178 213h1V226h-1ZM182 222h1V312h-1ZM184 284h1V319h-1ZM192 275h1V294h-1ZM196 282h1V299h-1ZM200 279h1V294h-1ZM202 267h1V294h-1ZM210 223h1V250h-1ZM214 232h1V251h-1ZM216 239h1V265h-1ZM222 203h1V253h-1ZM228 229h1V257h-1ZM230 246h1V258h-1ZM234 246h1V282h-1ZM236 267h1V292h-1ZM242 262h1V282h-1ZM246 263h1V276h-1ZM248 265h1V297h-1ZM256 298h1V318h-1ZM268 237h1V263h-1ZM270 253h1V265h-1ZM274 242h1V249h-1ZM276 248h1V259h-1ZM278 253h1V265h-1ZM284 244h1V254h-1ZM288 241h1V249h-1ZM290 242h1V250h-1ZM298 213h1V240h-1ZM302 219h1V255h-1ZM312 212h1V226h-1ZM314 210h1V227h-1ZM318 221h1V247h-1ZM320 221h1V240h-1ZM326 208h1V223h-1ZM328 215h1V226h-1ZM336 204h1V227h-1ZM338 208h1V223h-1ZM340 182h1V223h-1ZM346 212h1V227h-1ZM348 211h1V227h-1ZM356 191h1V208h-1ZM358 189h1V213h-1ZM362 160h1V208h-1ZM368 182h1V201h-1ZM370 188h1V203h-1ZM374 175h1V196h-1ZM376 172h1V195h-1ZM380 182h1V197h-1ZM384 168h1V198h-1ZM392 128h1V157h-1ZM394 148h1V160h-1ZM396 130h1V163h-1ZM402 132h1V160h-1ZM404 144h1V166h-1ZM406 156h1V172h-1ZM410 142h1V162h-1ZM414 128h1V150h-1ZM418 131h1V143h-1ZM422 115h1V153h-1ZM424 123h1V174h-1ZM426 155h1V205h-1ZM428 199h1V248h-1ZM436 155h1V187h-1ZM438 156h1V182h-1ZM442 143h1V170h-1ZM446 136h1V164h-1ZM452 142h1V155h-1ZM456 148h1V168h-1ZM458 158h1V181h-1ZM464 164h1V173h-1ZM472 142h1V158h-1ZM476 133h1V148h-1ZM486 98h1V117h-1ZM490 108h1V142h-1ZM492 116h1V145h-1ZM494 121h1V140h-1ZM502 114h1V137h-1ZM510 100h1V120h-1ZM512 108h1V128h-1ZM516 103h1V115h-1ZM520 104h1V117h-1ZM522 104h1V115h-1ZM524 115h1V124h-1ZM534 94h1V107h-1ZM536 104h1V117h-1ZM542 73h1V107h-1ZM548 88h1V98h-1ZM552 55h1V93h-1ZM556 74h1V98h-1ZM558 85h1V95h-1ZM562 73h1V88h-1ZM572 54h1V79h-1ZM574 58h1V74h-1ZM578 59h1V71h-1ZM588 50h1V61h-1ZM590 51h1V62h-1ZM596 49h1V72h-1ZM598 62h1V104h-1ZM600 93h1V118h-1ZM602 111h1V159h-1ZM604 141h1V172h-1ZM610 141h1V222h-1ZM612 207h1V274h-1ZM616 179h1V211h-1ZM622 141h1V159h-1ZM624 141h1V168h-1ZM626 150h1V171h-1ZM632 150h1V166h-1ZM634 152h1V170h-1ZM640 149h1V170h-1ZM646 141h1V158h-1ZM650 153h1V172h-1ZM656 136h1V151h-1ZM664 119h1V131h-1ZM668 105h1V118h-1ZM670 110h1V119h-1ZM674 96h1V111h-1ZM680 71h1V91h-1ZM688 68h1V112h-1ZM694 87h1V106h-1ZM696 97h1V110h-1ZM698 103h1V116h-1ZM706 98h1V117h-1ZM708 102h1V118h-1ZM712 111h1V133h-1ZM714 123h1V147h-1ZM718 126h1V140h-1ZM720 130h1V165h-1ZM728 113h1V130h-1ZM730 115h1V158h-1ZM732 149h1V170h-1ZM740 122h1V135h-1ZM742 119h1V138h-1ZM746 125h1V137h-1ZM754 110h1V125h-1ZM760 102h1V122h-1ZM762 114h1V129h-1ZM764 122h1V137h-1ZM766 127h1V152h-1ZM768 140h1V153h-1ZM772 135h1V156h-1ZM776 137h1V148h-1ZM780 140h1V148h-1ZM790 110h1V120h-1ZM794 111h1V123h-1ZM796 118h1V137h-1ZM800 119h1V128h-1ZM806 103h1V117h-1ZM810 104h1V117h-1ZM816 91h1V102h-1ZM818 94h1V103h-1ZM820 95h1V106h-1ZM826 91h1V133h-1ZM830 110h1V132h-1ZM832 121h1V138h-1ZM836 117h1V135h-1ZM838 118h1V134h-1ZM850 91h1V110h-1ZM852 145h1V159h-1ZM854 159h1V227h-1ZM858 196h1V229h-1ZM860 222h1V238h-1ZM862 222h1V238h-1ZM864 222h1V275h-1ZM866 273h1V308h-1ZM878 238h1V261h-1ZM880 253h1V270h-1ZM884 254h1V267h-1ZM892 191h1V219h-1ZM894 197h1V219h-1ZM898 211h1V234h-1ZM900 208h1V251h-1ZM906 206h1V240h-1ZM912 186h1V210h-1ZM920 154h1V167h-1ZM922 161h1V173h-1ZM924 151h1V195h-1ZM928 169h1V203h-1ZM932 173h1V191h-1ZM934 178h1V194h-1ZM936 201h1V229h-1ZM942 209h1V239h-1ZM944 230h1V246h-1ZM946 235h1V248h-1ZM950 231h1V267h-1ZM952 225h1V245h-1ZM956 220h1V231h-1ZM958 218h1V231h-1ZM968 183h1V197h-1ZM970 181h1V198h-1ZM974 186h1V198h-1ZM978 189h1V202h-1ZM980 189h1V207h-1ZM982 192h1V214h-1ZM984 190h1V209h-1ZM988 192h1V209h-1ZM992 203h1V216h-1ZM994 203h1V216h-1ZM996 203h1V211h-1ZM1000 192h1V210h-1ZM1004 177h1V194h-1ZM1008 163h1V187h-1ZM1010 181h1V221h-1ZM1014 189h1V208h-1ZM1016 200h1V208h-1ZM1028 153h1V191h-1ZM1034 178h1V189h-1ZM1036 182h1V192h-1ZM1038 189h1V193h-1Z" fill="#32cd32" shape-rendering="crispEdges"/><path d="M6 260h1V288h-1ZM8 233h1V270h-1ZM10 233h1V253h-1ZM12 218h1V237h-1ZM14 209h1V232h-1ZM16 200h1V217h-1ZM32 337h1V374h-1ZM34 342h1V363h-1ZM40 364h1V380h-1ZM42 370h1V383h-1ZM44 343h1V373h-1ZM52 362h1V381h-1ZM54 350h1V377h-1ZM56 342h1V366h-1ZM58 320h1V359h-1ZM60 302h1V338h-1ZM68 302h1V337h-1ZM70 281h1V312h-1ZM72 289h1V310h-1ZM74 252h1V291h-1ZM76 231h1V271h-1ZM78 238h1V259h-1ZM82 270h1V293h-1ZM84 253h1V280h-1ZM88 279h1V292h-1ZM90 264h1V286h-1ZM96 294h1V310h-1ZM102 292h1V305h-1ZM106 274h1V315h-1ZM108 260h1V278h-1ZM114 266h1V279h-1ZM116 265h1V291h-1ZM118 250h1V284h-1ZM126 279h1V298h-1ZM128 269h1V283h-1ZM132 277h1V301h-1ZM134 279h1V312h-1ZM140 277h1V321h-1ZM142 276h1V293h-1ZM144 265h1V291h-1ZM146 235h1V286h-1ZM150 237h1V261h-1ZM164 220h1V250h-1ZM166 230h1V242h-1ZM168 216h1V244h-1ZM172 223h1V231h-1ZM176 210h1V233h-1ZM180 218h1V237h-1ZM186 305h1V314h-1ZM188 279h1V310h-1ZM190 274h1V296h-1ZM194 282h1V326h-1ZM198 277h1V294h-1ZM204 276h1V294h-1ZM206 244h1V289h-1ZM208 222h1V246h-1ZM212 229h1V244h-1ZM218 236h1V270h-1ZM220 204h1V263h-1ZM224 238h1V262h-1ZM226 224h1V249h-1ZM232 258h1V270h-1ZM238 264h1V285h-1ZM240 263h1V279h-1ZM244 271h1V283h-1ZM250 283h1V312h-1ZM252 282h1V310h-1ZM254 299h1V309h-1ZM258 297h1V324h-1ZM260 296h1V301h-1ZM262 279h1V301h-1ZM264 274h1V284h-1ZM266 246h1V280h-1ZM272 242h1V266h-1ZM280 245h1V254h-1ZM282 239h1V258h-1ZM286 239h1V248h-1ZM292 230h1V242h-1ZM294 227h1V239h-1ZM296 222h1V236h-1ZM300 221h1V242h-1ZM304 227h1V247h-1ZM306 222h1V233h-1ZM308 215h1V231h-1ZM310 214h1V231h-1ZM316 225h1V229h-1ZM322 226h1V241h-1ZM324 214h1V226h-1ZM330 215h1V226h-1ZM332 211h1V221h-1ZM334 209h1V219h-1ZM342 215h1V227h-1ZM344 211h1V224h-1ZM350 214h1V224h-1ZM352 209h1V219h-1ZM354 198h1V214h-1ZM360 178h1V199h-1ZM364 190h1V201h-1ZM366 187h1V202h-1ZM372 179h1V205h-1ZM378 179h1V211h-1ZM386 164h1V187h-1ZM388 125h1V168h-1ZM390 125h1V159h-1ZM398 140h1V175h-1ZM400 132h1V151h-1ZM408 143h1V173h-1ZM412 130h1V156h-1ZM416 131h1V148h-1ZM420 115h1V143h-1ZM430 219h1V245h-1ZM432 174h1V224h-1ZM434 168h1V218h-1ZM440 145h1V159h-1ZM444 140h1V162h-1ZM448 155h1V169h-1ZM450 144h1V160h-1ZM454 147h1V167h-1ZM460 169h1V182h-1ZM462 162h1V176h-1ZM466 151h1V180h-1ZM468 150h1V168h-1ZM470 143h1V164h-1ZM474 138h1V156h-1ZM478 120h1V142h-1ZM480 116h1V132h-1ZM482 110h1V128h-1ZM484 100h1V115h-1ZM488 107h1V128h-1ZM496 122h1V140h-1ZM498 119h1V136h-1ZM504 122h1V138h-1ZM506 105h1V123h-1ZM508 101h1V113h-1ZM514 107h1V117h-1ZM518 104h1V115h-1ZM526 108h1V122h-1ZM528 109h1V122h-1ZM530 100h1V112h-1ZM532 93h1V110h-1ZM538 100h1V108h-1ZM540 88h1V106h-1ZM544 91h1V106h-1ZM546 90h1V103h-1ZM550 59h1V98h-1ZM554 77h1V95h-1ZM560 79h1V92h-1ZM564 71h1V92h-1ZM566 70h1V85h-1ZM568 58h1V78h-1ZM570 56h1V73h-1ZM576 59h1V73h-1ZM580 57h1V70h-1ZM582 58h1V70h-1ZM584 52h1V69h-1ZM586 52h1V62h-1ZM592 51h1V62h-1ZM594 50h1V62h-1ZM606 144h1V169h-1ZM608 137h1V176h-1ZM614 193h1V264h-1ZM618 170h1V204h-1ZM620 150h1V180h-1ZM628 163h1V172h-1ZM630 148h1V169h-1ZM636 153h1V169h-1ZM638 145h1V163h-1ZM642 121h1V165h-1ZM644 132h1V168h-1ZM648 152h1V172h-1ZM652 151h1V157h-1ZM654 135h1V153h-1ZM658 137h1V148h-1ZM660 135h1V148h-1ZM662 120h1V140h-1ZM666 108h1V128h-1ZM672 103h1V118h-1ZM676 96h1V117h-1ZM678 78h1V100h-1ZM682 76h1V93h-1ZM684 73h1V82h-1ZM686 71h1V85h-1ZM690 98h1V115h-1ZM692 86h1V108h-1ZM700 98h1V123h-1ZM702 100h1V107h-1ZM704 96h1V105h-1ZM710 110h1V120h-1ZM716 117h1V145h-1ZM722 130h1V163h-1ZM724 129h1V153h-1ZM726 112h1V139h-1ZM736 127h1V154h-1ZM738 122h1V135h-1ZM744 122h1V137h-1ZM748 117h1V134h-1ZM750 120h1V134h-1ZM752 114h1V134h-1ZM756 112h1V119h-1ZM758 106h1V120h-1ZM770 140h1V150h-1ZM774 139h1V156h-1ZM778 138h1V147h-1ZM782 139h1V151h-1ZM784 130h1V148h-1ZM786 122h1V137h-1ZM788 108h1V125h-1ZM792 108h1V118h-1ZM798 122h1V138h-1ZM802 115h1V121h-1ZM804 98h1V120h-1ZM808 99h1V133h-1ZM812 97h1V114h-1ZM814 88h1V103h-1ZM822 91h1V103h-1ZM824 87h1V101h-1ZM828 118h1V128h-1ZM834 111h1V132h-1ZM840 120h1V132h-1ZM842 113h1V123h-1ZM844 114h1V123h-1ZM846 107h1V122h-1ZM848 92h1V121h-1ZM856 200h1V227h-1ZM868 286h1V316h-1ZM870 283h1V321h-1ZM872 278h1V296h-1ZM874 270h1V292h-1ZM876 245h1V286h-1ZM882 253h1V270h-1ZM886 248h1V265h-1ZM888 188h1V229h-1ZM890 178h1V226h-1ZM896 200h1V227h-1ZM902 219h1V246h-1ZM904 207h1V231h-1ZM908 206h1V217h-1ZM914 155h1V196h-1ZM916 158h1V176h-1ZM918 157h1V175h-1ZM926 178h1V202h-1ZM930 182h1V200h-1ZM938 203h1V215h-1ZM940 206h1V216h-1ZM948 233h1V248h-1ZM954 212h1V240h-1ZM960 198h1V226h-1ZM962 192h1V214h-1ZM964 175h1V202h-1ZM966 170h1V189h-1ZM972 189h1V200h-1ZM976 188h1V203h-1ZM986 193h1V211h-1ZM990 192h1V199h-1ZM998 193h1V205h-1ZM1002 182h1V215h-1ZM1006 166h1V189h-1ZM1012 192h1V216h-1ZM1018 193h1V215h-1ZM1020 178h1V203h-1ZM1022 164h1V183h-1ZM1024 163h1V182h-1ZM1026 155h1V176h-1ZM1030 176h1V194h-1ZM1032 177h1V189h-1ZM1040 200h1V204h-1ZM1042 194h1V205h-1Z" fill="#ff0000" shape-rendering="crispEdges"/><path d="M148 232h1V255h-1ZM382 192h1V194h-1ZM500 120h1V122h-1ZM734 140h1V141h-1ZM910 218h1V220h-1Z" fill="#000000" shape-rendering="crispEdges"/><path d="M5 297h1V300h-1ZM6 294h1V297h-1ZM7 291h1V294h-1ZM8 288h1V291h-1ZM9 284h1V288h-1ZM10 281h1V284h-1ZM11 278h1V281h-1ZM12 275h1V278h-1ZM13 272h1V275h-1ZM14 269h1V272h-1ZM15 266h1V269h-1ZM16 263h1V266h-1ZM17 261h1V263h-1ZM18 259h1V261h-1ZM19 257h1V259h-1ZM20 255h1V257h-1ZM21 254h1V255h-1ZM22 253h1V254h-1ZM23 253h1V254h-1ZM24 252h1V253h-1ZM25 253h1V254h-1ZM26 254h1V256h-1ZM27 256h1V259h-1ZM28 259h1V262h-1ZM29 262h1V265h-1ZM30 265h1V269h-1ZM31 269h1V273h-1ZM32 273h1V278h-1ZM33 278h1V282h-1ZM34 282h1V287h-1ZM35 287h1V292h-1ZM36 292h1V297h-1ZM37 297h1V301h-1ZM38 301h1V306h-1ZM39 306h1V310h-1ZM40 310h1V314h-1ZM41 314h1V318h-1ZM42 318h1V323h-1ZM43 323h1V327h-1ZM44 327h1V332h-1ZM45 332h1V337h-1ZM46 337h1V342h-1ZM47 342h1V346h-1ZM48 346h1V351h-1ZM49 351h1V355h-1ZM50 355h1V359h-1ZM51 359h1V362h-1ZM52 362h1V364h-1ZM53 364h1V366h-1ZM54 366h1V367h-1ZM55 367h1V368h-1ZM56 367h1V368h-1ZM57 367h1V368h-1ZM58 365h1V367h-1ZM59 363h1V365h-1ZM60 361h1V363h-1ZM61 359h1V361h-1ZM62 357h1V359h-1ZM63 355h1V357h-1ZM64 353h1V355h-1ZM65 351h1V353h-1ZM66 348h1V351h-1ZM67 346h1V348h-1ZM68 343h1V346h-1ZM69 340h1V343h-1ZM70 337h1V340h-1ZM71 334h1V337h-1ZM72 332h1V334h-1ZM73 329h1V332h-1ZM74 326h1V329h-1ZM75 322h1V326h-1ZM76 319h1V322h-1ZM77 316h1V319h-1ZM78 313h1V316h-1ZM79 310h1V313h-1ZM80 307h1V310h-1ZM81 304h1V307h-1ZM82 301h1V304h-1ZM83 298h1V301h-1ZM84 295h1V298h-1ZM85 293h1V295h-1ZM86 291h1V293h-1ZM87 289h1V291h-1ZM88 287h1V289h-1ZM89 285h1V287h-1ZM90 284h1V285h-1ZM91 283h1V284h-1ZM92 282h1V283h-1ZM93 281h1V282h-1ZM94 280h1V281h-1ZM95 280h1V281h-1ZM96 280h1V281h-1ZM97 280h1V281h-1ZM98 281h1V282h-1ZM99 282h1V283h-1ZM100 283h1V285h-1ZM101 285h1V286h-1ZM102 286h1V288h-1ZM103 288h1V289h-1ZM104 289h1V290h-1ZM105 290h1V291h-1ZM106 290h1V291h-1ZM107 290h1V291h-1ZM108 291h1V292h-1ZM109 291h1V292h-1ZM110 290h1V291h-1ZM111 290h1V291h-1ZM112 290h1V291h-1ZM113 289h1V290h-1ZM114 289h1V290h-1ZM115 288h1V289h-1ZM116 288h1V289h-1ZM117 287h1V288h-1ZM118 286h1V287h-1ZM119 286h1V287h-1ZM120 285h1V286h-1ZM121 284h1V285h-1ZM122 284h1V285h-1ZM123 283h1V284h-1ZM124 283h1V284h-1ZM125 282h1V283h-1ZM126 281h1V282h-1ZM127 281h1V282h-1ZM128 280h1V281h-1ZM129 280h1V281h-1ZM130 279h1V280h-1ZM131 279h1V280h-1ZM132 279h1V280h-1ZM133 278h1V279h-1ZM134 278h1V279h-1ZM135 278h1V279h-1ZM136 278h1V279h-1ZM137 278h1V279h-1ZM138 279h1V280h-1ZM139 280h1V281h-1ZM140 280h1V281h-1ZM141 281h1V282h-1ZM142 282h1V283h-1ZM143 282h1V283h-1ZM144 283h1V284h-1ZM145 284h1V285h-1ZM146 283h1V284h-1ZM147 282h1V284h-1ZM148 281h1V282h-1ZM149 280h1V281h-1ZM150 278h1V280h-1ZM151 277h1V278h-1ZM152 275h1V277h-1ZM153 274h1V275h-1ZM154 272h1V274h-1ZM155 271h1V272h-1ZM156 269h1V271h-1ZM157 268h1V269h-1ZM158 266h1V268h-1ZM159 265h1V266h-1ZM160 263h1V265h-1ZM161 262h1V263h-1ZM162 260h1V262h-1ZM163 259h1V260h-1ZM164 257h1V259h-1ZM165 255h1V257h-1ZM166 253h1V255h-1ZM167 251h1V253h-1ZM168 250h1V251h-1ZM169 248h1V250h-1ZM170 246h1V248h-1ZM171 244h1V246h-1ZM172 243h1V244h-1ZM173 241h1V243h-1ZM174 240h1V241h-1ZM175 239h1V240h-1ZM176 237h1V239h-1ZM177 236h1V237h-1ZM178 236h1V237h-1ZM179 235h1V236h-1ZM180 235h1V236h-1ZM181 235h1V236h-1ZM182 236h1V237h-1ZM183 237h1V238h-1ZM184 238h1V239h-1ZM185 239h1V241h-1ZM186 241h1V243h-1ZM187 243h1V245h-1ZM188 245h1V247h-1ZM189 247h1V249h-1ZM190 249h1V251h-1ZM191 251h1V254h-1ZM192 254h1V256h-1ZM193 256h1V258h-1ZM194 258h1V260h-1ZM195 260h1V262h-1ZM196 262h1V265h-1ZM197 265h1V268h-1ZM198 268h1V271h-1ZM199 271h1V274h-1ZM200 274h1V277h-1ZM201 277h1V280h-1ZM202 280h1V281h-1ZM203 281h1V282h-1ZM204 282h1V283h-1ZM205 282h1V283h-1ZM206 282h1V283h-1ZM207 281h1V282h-1ZM208 280h1V281h-1ZM209 279h1V280h-1ZM210 277h1V279h-1ZM211 275h1V277h-1ZM212 273h1V275h-1ZM213 272h1V273h-1ZM214 270h1V272h-1ZM215 268h1V270h-1ZM216 266h1V268h-1ZM217 264h1V266h-1ZM218 263h1V264h-1ZM219 261h1V263h-1ZM220 260h1V261h-1ZM221 258h1V260h-1ZM222 256h1V258h-1ZM223 255h1V256h-1ZM224 253h1V255h-1ZM225 251h1V253h-1ZM226 250h1V251h-1ZM227 248h1V250h-1ZM228 247h1V248h-1ZM229 246h1V247h-1ZM230 245h1V246h-1ZM231 244h1V245h-1ZM232 244h1V245h-1ZM233 244h1V245h-1ZM234 244h1V245h-1ZM235 245h1V246h-1ZM236 246h1V247h-1ZM237 247h1V249h-1ZM238 249h1V250h-1ZM239 250h1V252h-1ZM240 252h1V254h-1ZM241 254h1V255h-1ZM242 255h1V257h-1ZM243 257h1V259h-1ZM244 259h1V260h-1ZM245 260h1V261h-1ZM246 261h1V263h-1ZM247 263h1V265h-1ZM248 265h1V267h-1ZM249 267h1V269h-1ZM250 269h1V271h-1ZM251 271h1V273h-1ZM252 273h1V275h-1ZM253 275h1V276h-1ZM254 276h1V278h-1ZM255 278h1V280h-1ZM256 280h1V281h-1ZM257 281h1V282h-1ZM258 282h1V283h-1ZM259 283h1V284h-1ZM260 284h1V285h-1ZM261 285h1V286h-1ZM262 285h1V286h-1ZM263 285h1V286h-1ZM264 285h1V286h-1ZM265 285h1V286h-1ZM266 284h1V285h-1ZM267 284h1V285h-1ZM268 283h1V284h-1ZM269 282h1V283h-1ZM270 282h1V283h-1ZM271 281h1V282h-1ZM272 280h1V281h-1ZM273 279h1V280h-1ZM274 278h1V279h-1ZM275 276h1V278h-1ZM276 275h1V276h-1ZM277 274h1V275h-1ZM278 273h1V274h-1ZM279 272h1V273h-1ZM280 271h1V272h-1ZM281 269h1V271h-1ZM282 268h1V269h-1ZM283 267h1V268h-1ZM284 266h1V267h-1ZM285 265h1V266h-1ZM286 264h1V265h-1ZM287 263h1V264h-1ZM288 261h1V263h-1ZM289 260h1V261h-1ZM290 259h1V260h-1ZM291 258h1V259h-1ZM292 256h1V258h-1ZM293 255h1V256h-1ZM294 254h1V255h-1ZM295 252h1V254h-1ZM296 251h1V252h-1ZM297 250h1V251h-1ZM298 248h1V250h-1ZM299 247h1V248h-1ZM300 246h1V247h-1ZM301 245h1V246h-1ZM302 243h1V245h-1ZM303 242h1V243h-1ZM304 241h1V242h-1ZM305 240h1V241h-1ZM306 239h1V240h-1ZM307 238h1V239h-1ZM308 236h1V238h-1ZM309 235h1V236h-1ZM310 234h1V235h-1ZM311 233h1V234h-1ZM312 232h1V233h-1ZM313 231h1V232h-1ZM314 230h1V231h-1ZM315 229h1V230h-1ZM316 228h1V229h-1ZM317 228h1V229h-1ZM318 227h1V228h-1ZM319 227h1V228h-1ZM320 226h1V227h-1ZM321 226h1V227h-1ZM322 225h1V226h-1ZM323 225h1V226h-1ZM324 224h1V225h-1ZM325 224h1V225h-1ZM326 224h1V225h-1ZM327 224h1V225h-1ZM328 223h1V224h-1ZM329 223h1V224h-1ZM330 223h1V224h-1ZM331 223h1V224h-1ZM332 223h1V224h-1ZM333 222h1V223h-1ZM334 222h1V223h-1ZM335 222h1V223h-1ZM336 222h1V223h-1ZM337 222h1V223h-1ZM338 222h1V223h-1ZM339 221h1V222h-1ZM340 221h1V222h-1ZM341 221h1V222h-1ZM342 221h1V222h-1ZM343 220h1V221h-1ZM344 220h1V221h-1ZM345 220h1V221h-1ZM346 219h1V220h-1ZM347 219h1V220h-1ZM348 219h1V220h-1ZM349 218h1V219h-1ZM350 218h1V219h-1ZM351 217h1V218h-1ZM352 216h1V217h-1ZM353 215h1V216h-1ZM354 215h1V216h-1ZM355 214h1V215h-1ZM356 213h1V214h-1ZM357 213h1V214h-1ZM358 212h1V213h-1ZM359 211h1V212h-1ZM360 210h1V211h-1ZM361 210h1V211h-1ZM362 209h1V210h-1ZM363 208h1V209h-1ZM364 208h1V209h-1ZM365 207h1V208h-1ZM366 206h1V207h-1ZM367 205h1V206h-1ZM368 205h1V206h-1ZM369 204h1V205h-1ZM370 203h1V204h-1ZM371 202h1V203h-1ZM372 202h1V203h-1ZM373 201h1V202h-1ZM374 200h1V201h-1ZM375 199h1V200h-1ZM376 198h1V199h-1ZM377 197h1V198h-1ZM378 197h1V198h-1ZM379 196h1V197h-1ZM380 195h1V196h-1ZM381 194h1V195h-1ZM382 193h1V194h-1ZM383 192h1V193h-1ZM384 191h1V192h-1ZM385 190h1V191h-1ZM386 189h1V190h-1ZM387 187h1V189h-1ZM388 186h1V187h-1ZM389 185h1V186h-1ZM390 183h1V185h-1ZM391 182h1V183h-1ZM392 180h1V182h-1ZM393 179h1V180h-1ZM394 177h1V179h-1ZM395 176h1V177h-1ZM396 174h1V176h-1ZM397 172h1V174h-1ZM398 171h1V172h-1ZM399 169h1V171h-1ZM400 167h1V169h-1ZM401 166h1V167h-1ZM402 164h1V166h-1ZM403 162h1V164h-1ZM404 161h1V162h-1ZM405 160h1V161h-1ZM406 158h1V160h-1ZM407 157h1V158h-1ZM408 156h1V157h-1ZM409 154h1V156h-1ZM410 153h1V154h-1ZM411 152h1V153h-1ZM412 151h1V152h-1ZM413 150h1V151h-1ZM414 149h1V150h-1ZM415 148h1V149h-1ZM416 147h1V148h-1ZM417 146h1V147h-1ZM418 145h1V146h-1ZM419 144h1V145h-1ZM420 143h1V144h-1ZM421 143h1V144h-1ZM422 143h1V144h-1ZM423 144h1V146h-1ZM424 146h1V149h-1ZM425 149h1V152h-1ZM426 152h1V156h-1ZM427 156h1V158h-1ZM428 158h1V160h-1ZM429 160h1V162h-1ZM430 162h1V163h-1ZM431 163h1V164h-1ZM432 164h1V165h-1ZM433 165h1V166h-1ZM434 166h1V167h-1ZM435 167h1V168h-1ZM436 167h1V168h-1ZM437 168h1V169h-1ZM438 169h1V170h-1ZM439 170h1V171h-1ZM440 170h1V171h-1ZM441 171h1V172h-1ZM442 172h1V173h-1ZM443 172h1V173h-1ZM444 173h1V174h-1ZM445 173h1V174h-1ZM446 174h1V175h-1ZM447 174h1V175h-1ZM448 174h1V175h-1ZM449 175h1V176h-1ZM450 175h1V176h-1ZM451 175h1V176h-1ZM452 174h1V175h-1ZM453 172h1V174h-1ZM454 169h1V172h-1ZM455 165h1V169h-1ZM456 163h1V165h-1ZM457 162h1V163h-1ZM458 161h1V162h-1ZM459 160h1V161h-1ZM460 160h1V161h-1ZM461 159h1V160h-1ZM462 159h1V160h-1ZM463 159h1V160h-1ZM464 159h1V160h-1ZM465 159h1V160h-1ZM466 159h1V160h-1ZM467 159h1V160h-1ZM468 159h1V160h-1ZM469 159h1V160h-1ZM470 158h1V159h-1ZM471 158h1V159h-1ZM472 157h1V158h-1ZM473 157h1V158h-1ZM474 156h1V157h-1ZM475 155h1V156h-1ZM476 153h1V155h-1ZM477 152h1V153h-1ZM478 151h1V152h-1ZM479 150h1V151h-1ZM480 149h1V150h-1ZM481 147h1V149h-1ZM482 146h1V147h-1ZM483 145h1V146h-1ZM484 143h1V145h-1ZM485 142h1V143h-1ZM486 140h1V142h-1ZM487 138h1V140h-1ZM488 137h1V138h-1ZM489 135h1V137h-1ZM490 134h1V135h-1ZM491 132h1V134h-1ZM492 131h1V132h-1ZM493 130h1V131h-1ZM494 129h1V130h-1ZM495 127h1V129h-1ZM496 126h1V127h-1ZM497 125h1V126h-1ZM498 124h1V125h-1ZM499 124h1V125h-1ZM500 123h1V124h-1ZM501 122h1V123h-1ZM502 121h1V122h-1ZM503 121h1V122h-1ZM504 121h1V122h-1ZM505 120h1V121h-1ZM506 120h1V121h-1ZM507 120h1V121h-1ZM508 120h1V121h-1ZM509 120h1V121h-1ZM510 120h1V121h-1ZM511 120h1V121h-1ZM512 120h1V121h-1ZM513 119h1V120h-1ZM514 119h1V120h-1ZM515 119h1V120h-1ZM516 119h1V120h-1ZM517 119h1V120h-1ZM518 119h1V120h-1ZM519 118h1V119h-1ZM520 118h1V119h-1ZM521 118h1V119h-1ZM522 117h1V118h-1ZM523 117h1V118h-1ZM524 116h1V117h-1ZM525 115h1V116h-1ZM526 115h1V116h-1ZM527 114h1V115h-1ZM528 114h1V115h-1ZM529 113h1V114h-1ZM530 113h1V114h-1ZM531 112h1V113h-1ZM532 112h1V113h-1ZM533 111h1V112h-1ZM534 111h1V112h-1ZM535 110h1V111h-1ZM536 110h1V111h-1ZM537 110h1V111h-1ZM538 109h1V110h-1ZM539 109h1V110h-1ZM540 108h1V109h-1ZM541 108h1V109h-1ZM542 107h1V108h-1ZM543 107h1V108h-1ZM544 106h1V107h-1ZM545 106h1V107h-1ZM546 105h1V106h-1ZM547 104h1V105h-1ZM548 104h1V105h-1ZM549 103h1V104h-1ZM550 102h1V103h-1ZM551 101h1V102h-1ZM552 100h1V101h-1ZM553 99h1V100h-1ZM554 98h1V99h-1ZM555 97h1V98h-1ZM556 96h1V97h-1ZM557 95h1V96h-1ZM558 94h1V95h-1ZM559 93h1V94h-1ZM560 92h1V93h-1ZM561 92h1V93h-1ZM562 91h1V92h-1ZM563 91h1V92h-1ZM564 90h1V91h-1ZM565 90h1V91h-1ZM566 89h1V90h-1ZM567 88h1V89h-1ZM568 88h1V89h-1ZM569 87h1V88h-1ZM570 85h1V87h-1ZM571 84h1V85h-1ZM572 83h1V84h-1ZM573 82h1V83h-1ZM574 80h1V82h-1ZM575 79h1V80h-1ZM576 78h1V79h-1ZM577 77h1V78h-1ZM578 76h1V77h-1ZM579 75h1V76h-1ZM580 74h1V75h-1ZM581 73h1V74h-1ZM582 72h1V73h-1ZM583 71h1V72h-1ZM584 70h1V71h-1ZM585 69h1V70h-1ZM586 68h1V69h-1ZM587 67h1V68h-1ZM588 66h1V67h-1ZM589 65h1V66h-1ZM590 64h1V65h-1ZM591 63h1V64h-1ZM592 62h1V63h-1ZM593 61h1V62h-1ZM594 59h1V61h-1ZM595 58h1V60h-1ZM596 60h1V62h-1ZM597 62h1V65h-1ZM598 65h1V67h-1ZM599 67h1V69h-1ZM600 69h1V72h-1ZM601 72h1V75h-1ZM602 75h1V77h-1ZM603 77h1V80h-1ZM604 80h1V83h-1ZM605 83h1V87h-1ZM606 87h1V90h-1ZM607 90h1V94h-1ZM608 94h1V98h-1ZM609 98h1V102h-1ZM610 102h1V107h-1ZM611 107h1V112h-1ZM612 112h1V117h-1ZM613 117h1V122h-1ZM614 122h1V128h-1ZM615 128h1V133h-1ZM616 133h1V138h-1ZM617 138h1V143h-1ZM618 143h1V148h-1ZM619 148h1V153h-1ZM620 153h1V157h-1ZM621 157h1V161h-1ZM622 161h1V164h-1ZM623 164h1V167h-1ZM624 167h1V170h-1ZM625 170h1V172h-1ZM626 172h1V174h-1ZM627 174h1V175h-1ZM628 175h1V176h-1ZM629 176h1V177h-1ZM630 177h1V178h-1ZM631 177h1V178h-1ZM632 177h1V178h-1ZM633 177h1V178h-1ZM634 177h1V178h-1ZM635 176h1V177h-1ZM636 176h1V177h-1ZM637 174h1V176h-1ZM638 172h1V174h-1ZM639 170h1V172h-1ZM640 167h1V170h-1ZM641 165h1V167h-1ZM642 163h1V165h-1ZM643 162h1V163h-1ZM644 161h1V162h-1ZM645 160h1V161h-1ZM646 160h1V161h-1ZM647 159h1V160h-1ZM648 158h1V159h-1ZM649 158h1V159h-1ZM650 157h1V158h-1ZM651 156h1V157h-1ZM652 156h1V157h-1ZM653 155h1V156h-1ZM654 155h1V156h-1ZM655 154h1V155h-1ZM656 154h1V155h-1ZM657 153h1V154h-1ZM658 153h1V154h-1ZM659 152h1V153h-1ZM660 151h1V152h-1ZM661 150h1V151h-1ZM662 149h1V150h-1ZM663 148h1V149h-1ZM664 147h1V148h-1ZM665 146h1V147h-1ZM666 144h1V146h-1ZM667 143h1V144h-1ZM668 141h1V143h-1ZM669 139h1V141h-1ZM670 138h1V139h-1ZM671 136h1V138h-1ZM672 133h1V136h-1ZM673 131h1V133h-1ZM674 129h1V131h-1ZM675 127h1V129h-1ZM676 124h1V127h-1ZM677 122h1V124h-1ZM678 119h1V122h-1ZM679 117h1V119h-1ZM680 115h1V117h-1ZM681 113h1V115h-1ZM682 110h1V113h-1ZM683 108h1V110h-1ZM684 106h1V108h-1ZM685 103h1V106h-1ZM686 102h1V103h-1ZM687 100h1V102h-1ZM688 99h1V100h-1ZM689 98h1V99h-1ZM690 97h1V98h-1ZM691 96h1V97h-1ZM692 96h1V97h-1ZM693 95h1V96h-1ZM694 95h1V96h-1ZM695 95h1V96h-1ZM696 95h1V96h-1ZM697 94h1V95h-1ZM698 94h1V95h-1ZM699 94h1V95h-1ZM700 94h1V95h-1ZM701 94h1V95h-1ZM702 94h1V95h-1ZM703 95h1V96h-1ZM704 95h1V96h-1ZM705 95h1V96h-1ZM706 95h1V96h-1ZM707 96h1V97h-1ZM708 96h1V97h-1ZM709 97h1V98h-1ZM710 98h1V99h-1ZM711 99h1V101h-1ZM712 101h1V102h-1ZM713 102h1V104h-1ZM714 104h1V105h-1ZM715 105h1V106h-1ZM716 106h1V108h-1ZM717 108h1V110h-1ZM718 110h1V112h-1ZM719 112h1V113h-1ZM720 113h1V115h-1ZM721 115h1V117h-1ZM722 117h1V119h-1ZM723 119h1V121h-1ZM724 121h1V122h-1ZM725 122h1V124h-1ZM726 124h1V126h-1ZM727 126h1V127h-1ZM728 127h1V129h-1ZM729 129h1V130h-1ZM730 130h1V131h-1ZM731 131h1V132h-1ZM732 132h1V133h-1ZM733 133h1V134h-1ZM734 134h1V135h-1ZM735 134h1V135h-1ZM736 135h1V136h-1ZM737 135h1V136h-1ZM738 135h1V136h-1ZM739 135h1V136h-1ZM740 135h1V136h-1ZM741 135h1V136h-1ZM742 135h1V136h-1ZM743 135h1V136h-1ZM744 135h1V136h-1ZM745 135h1V136h-1ZM746 135h1V136h-1ZM747 134h1V135h-1ZM748 134h1V135h-1ZM749 134h1V135h-1ZM750 134h1V135h-1ZM751 133h1V134h-1ZM752 133h1V134h-1ZM753 133h1V134h-1ZM754 132h1V133h-1ZM755 132h1V133h-1ZM756 131h1V132h-1ZM757 131h1V132h-1ZM758 130h1V131h-1ZM759 129h1V130h-1ZM760 127h1V129h-1ZM761 126h1V127h-1ZM762 126h1V127h-1ZM763 125h1V126h-1ZM764 125h1V126h-1ZM765 125h1V126h-1ZM766 125h1V126h-1ZM767 125h1V126h-1ZM768 126h1V127h-1ZM769 126h1V127h-1ZM770 127h1V128h-1ZM771 128h1V129h-1ZM772 128h1V129h-1ZM773 129h1V130h-1ZM774 130h1V131h-1ZM775 131h1V132h-1ZM776 132h1V133h-1ZM777 133h1V134h-1ZM778 134h1V135h-1ZM779 134h1V135h-1ZM780 135h1V136h-1ZM781 136h1V137h-1ZM782 137h1V138h-1ZM783 137h1V138h-1ZM784 137h1V138h-1ZM785 137h1V138h-1ZM786 137h1V138h-1ZM787 137h1V138h-1ZM788 136h1V137h-1ZM789 136h1V137h-1ZM790 135h1V136h-1ZM791 134h1V135h-1ZM792 134h1V135h-1ZM793 133h1V134h-1ZM794 132h1V133h-1ZM795 132h1V133h-1ZM796 131h1V132h-1ZM797 130h1V131h-1ZM798 130h1V131h-1ZM799 129h1V130h-1ZM800 128h1V129h-1ZM801 127h1V128h-1ZM802 126h1V127h-1ZM803 126h1V127h-1ZM804 125h1V126h-1ZM805 124h1V125h-1ZM806 123h1V124h-1ZM807 122h1V123h-1ZM808 121h1V122h-1ZM809 120h1V121h-1ZM810 119h1V120h-1ZM811 118h1V119h-1ZM812 118h1V119h-1ZM813 117h1V118h-1ZM814 116h1V117h-1ZM815 115h1V116h-1ZM816 114h1V115h-1ZM817 113h1V114h-1ZM818 112h1V113h-1ZM819 112h1V113h-1ZM820 111h1V112h-1ZM821 110h1V111h-1ZM822 109h1V110h-1ZM823 108h1V109h-1ZM824 108h1V109h-1ZM825 107h1V108h-1ZM826 106h1V107h-1ZM827 106h1V107h-1ZM828 106h1V107h-1ZM829 105h1V106h-1ZM830 105h1V106h-1ZM831 105h1V106h-1ZM832 106h1V107h-1ZM833 106h1V107h-1ZM834 106h1V107h-1ZM835 107h1V108h-1ZM836 108h1V109h-1ZM837 108h1V109h-1ZM838 109h1V110h-1ZM839 109h1V110h-1ZM840 110h1V111h-1ZM841 111h1V112h-1ZM842 111h1V112h-1ZM843 112h1V113h-1ZM844 113h1V114h-1ZM845 114h1V115h-1ZM846 115h1V116h-1ZM847 116h1V117h-1ZM848 117h1V118h-1ZM849 118h1V120h-1ZM850 120h1V122h-1ZM851 122h1V124h-1ZM852 124h1V127h-1ZM853 127h1V131h-1ZM854 131h1V135h-1ZM855 135h1V139h-1ZM856 139h1V144h-1ZM857 144h1V149h-1ZM858 149h1V154h-1ZM859 154h1V159h-1ZM860 159h1V164h-1ZM861 164h1V169h-1ZM862 169h1V174h-1ZM863 174h1V180h-1ZM864 180h1V185h-1ZM865 185h1V190h-1ZM866 190h1V196h-1ZM867 196h1V202h-1ZM868 202h1V208h-1ZM869 208h1V214h-1ZM870 214h1V220h-1ZM871 220h1V225h-1ZM872 225h1V231h-1ZM873 231h1V236h-1ZM874 236h1V240h-1ZM875 240h1V244h-1ZM876 244h1V247h-1ZM877 247h1V250h-1ZM878 250h1V253h-1ZM879 253h1V256h-1ZM880 256h1V258h-1ZM881 258h1V260h-1ZM882 260h1V262h-1ZM883 262h1V264h-1ZM884 264h1V266h-1ZM885 266h1V268h-1ZM886 268h1V269h-1ZM887 267h1V269h-1ZM888 265h1V267h-1ZM889 263h1V265h-1ZM890 260h1V263h-1ZM891 258h1V260h-1ZM892 255h1V258h-1ZM893 252h1V255h-1ZM894 250h1V252h-1ZM895 247h1V250h-1ZM896 245h1V247h-1ZM897 242h1V245h-1ZM898 240h1V242h-1ZM899 238h1V240h-1ZM900 236h1V238h-1ZM901 234h1V236h-1ZM902 233h1V234h-1ZM903 231h1V233h-1ZM904 230h1V231h-1ZM905 228h1V230h-1ZM906 227h1V228h-1ZM907 226h1V227h-1ZM908 224h1V226h-1ZM909 223h1V224h-1ZM910 222h1V223h-1ZM911 221h1V222h-1ZM912 219h1V221h-1ZM913 218h1V219h-1ZM914 217h1V218h-1ZM915 215h1V217h-1ZM916 214h1V215h-1ZM917 213h1V214h-1ZM918 211h1V213h-1ZM919 209h1V211h-1ZM920 208h1V209h-1ZM921 206h1V208h-1ZM922 204h1V206h-1ZM923 203h1V204h-1ZM924 201h1V203h-1ZM925 199h1V201h-1ZM926 198h1V199h-1ZM927 197h1V198h-1ZM928 195h1V197h-1ZM929 193h1V195h-1ZM930 192h1V193h-1ZM931 190h1V192h-1ZM932 189h1V190h-1ZM933 188h1V189h-1ZM934 187h1V188h-1ZM935 186h1V187h-1ZM936 186h1V187h-1ZM937 186h1V187h-1ZM938 186h1V187h-1ZM939 187h1V188h-1ZM940 187h1V188h-1ZM941 188h1V190h-1ZM942 190h1V191h-1ZM943 191h1V192h-1ZM944 192h1V194h-1ZM945 194h1V196h-1ZM946 196h1V198h-1ZM947 198h1V200h-1ZM948 200h1V203h-1ZM949 203h1V206h-1ZM950 206h1V208h-1ZM951 208h1V211h-1ZM952 211h1V214h-1ZM953 214h1V217h-1ZM954 217h1V220h-1ZM955 220h1V222h-1ZM956 222h1V224h-1ZM957 224h1V225h-1ZM958 225h1V226h-1ZM959 226h1V227h-1ZM960 226h1V227h-1ZM961 226h1V227h-1ZM962 226h1V227h-1ZM963 225h1V226h-1ZM964 225h1V226h-1ZM965 223h1V225h-1ZM966 222h1V223h-1ZM967 221h1V222h-1ZM968 219h1V221h-1ZM969 218h1V219h-1ZM970 217h1V218h-1ZM971 216h1V217h-1ZM972 214h1V216h-1ZM973 213h1V214h-1ZM974 211h1V213h-1ZM975 210h1V211h-1ZM976 208h1V210h-1ZM977 206h1V208h-1ZM978 205h1V206h-1ZM979 203h1V205h-1ZM980 202h1V203h-1ZM981 200h1V202h-1ZM982 199h1V200h-1ZM983 198h1V199h-1ZM984 197h1V198h-1ZM985 196h1V197h-1ZM986 196h1V197h-1ZM987 196h1V197h-1ZM988 196h1V197h-1ZM989 197h1V198h-1ZM990 197h1V198h-1ZM991 198h1V199h-1ZM992 198h1V199h-1ZM993 199h1V200h-1ZM994 199h1V200h-1ZM995 199h1V200h-1ZM996 198h1V199h-1ZM997 198h1V199h-1ZM998 198h1V199h-1ZM999 198h1V199h-1ZM1000 197h1V198h-1ZM1001 197h1V198h-1ZM1002 197h1V198h-1ZM1003 197h1V198h-1ZM1004 197h1V198h-1ZM1005 197h1V198h-1ZM1006 197h1V198h-1ZM1007 197h1V198h-1ZM1008 197h1V198h-1ZM1009 197h1V198h-1ZM1010 197h1V198h-1ZM1011 197h1V198h-1ZM1012 198h1V199h-1ZM1013 198h1V199h-1ZM1014 198h1V199h-1ZM1015 198h1V199h-1ZM1016 198h1V199h-1ZM1017 197h1V198h-1ZM1018 197h1V198h-1ZM1019 197h1V198h-1ZM1020 196h1V197h-1ZM1021 196h1V197h-1ZM1022 194h1V196h-1ZM1023 193h1V194h-1ZM1024 191h1V193h-1ZM1025 190h1V191h-1ZM1026 189h1V190h-1ZM1027 188h1V189h-1ZM1028 188h1V189h-1ZM1029 187h1V188h-1ZM1030 187h1V188h-1ZM1031 187h1V188h-1ZM1032 187h1V188h-1ZM1033 186h1V187h-1ZM1034 186h1V187h-1ZM1035 186h1V187h-1ZM1036 186h1V187h-1ZM1037 186h1V187h-1ZM1038 186h1V187h-1ZM1039 186h1V187h-1ZM1040 186h1V187h-1ZM1041 186h1V187h-1ZM1042 186h1V187h-1Z" fill="#ff0000" shape-rendering="crispEdges"/><rect x="761" y="156" width="370" height="2" fill="#9acd32"/><rect x="829" y="131" width="297" height="2" fill="#ff0000"/><rect x="992" y="221" width="139" height="1" fill="#1e90ff"/><rect x="900" y="267" width="251" height="2" fill="#1e90ff"/><text x="10" y="422.2" font-size="10" fill="#000" textLength="146.5" lengthAdjust="spacingAndGlyphs">MACD(12,26,9) 0.000862 0.002991</text><text x="10" y="493" font-size="10" fill="#000" textLength="68" lengthAdjust="spacingAndGlyphs">RSI(14) 46.9003</text><defs><linearGradient id="rg" x1="0" y1="50" x2="0" y2="114" gradientUnits="userSpaceOnUse"><stop offset="0" stop-color="#fa5252"/><stop offset="0.37" stop-color="#e63a3a"/><stop offset="1" stop-color="#b00000"/></linearGradient><linearGradient id="bg" x1="0" y1="52" x2="0" y2="70" gradientUnits="userSpaceOnUse"><stop offset="0" stop-color="#f2f2f2"/><stop offset="0.33" stop-color="#e8e8e8"/><stop offset="0.34" stop-color="#dadada"/><stop offset="1" stop-color="#d2d2d2"/></linearGradient></defs><path d="M9 50H61V74H118V114H9Z" fill="url(#rg)"/><path d="M9.5 114V50.5H60.5V74.5H117.5V114" fill="none" stroke="#c00000" stroke-width="1"/><path d="M120 74H176V50H228V114H120Z" fill="url(#rg)"/><path d="M120.5 114V74.5H176.5V50.5H227.5V114" fill="none" stroke="#c00000" stroke-width="1"/><rect x="9" y="113" width="109" height="1" fill="#a80000"/><rect x="120" y="113" width="108" height="1" fill="#a80000"/><rect x="13" y="73" width="44" height="1" fill="#8c0000"/><rect x="13" y="74" width="44" height="1" fill="#f06a6a" opacity="0.6"/><rect x="180" y="73" width="44" height="1" fill="#8c0000"/><rect x="180" y="74" width="44" height="1" fill="#f06a6a" opacity="0.6"/><rect x="63.5" y="50.5" width="110" height="21" fill="#fff" stroke="#a8acb4" stroke-width="1"/><rect x="65" y="52" width="18" height="18" fill="url(#bg)"/><rect x="84" y="51" width="1" height="20" fill="#a8acb4"/><rect x="154" y="52" width="18" height="18" fill="url(#bg)"/><rect x="152" y="51" width="1" height="20" fill="#a8acb4"/><path d="M70.5 59H76.5L73.5 62.5Z" fill="#5468c8"/><path d="M160 62H166L163 58.5Z" fill="#5468c8"/><text x="125" y="65" font-size="12.5" fill="#000" textLength="24" lengthAdjust="spacingAndGlyphs">0.50</text><text x="20.5" y="66" font-size="12.5" fill="#fff" textLength="27.5" lengthAdjust="spacingAndGlyphs">SELL</text><text x="189" y="66" font-size="12.5" fill="#fff" textLength="25.5" lengthAdjust="spacingAndGlyphs">BUY</text><text x="28" y="105" font-size="12.5" fill="#fff" font-weight="bold" textLength="24.5" lengthAdjust="spacingAndGlyphs">6.89</text><text x="56.5" y="105" font-size="34.5" fill="#fff" textLength="35.5" lengthAdjust="spacingAndGlyphs">53</text><text x="95.8" y="89" font-size="10.5" fill="#fff" font-weight="bold" textLength="7.8" lengthAdjust="spacingAndGlyphs">3</text><text x="138.5" y="105" font-size="12.5" fill="#fff" font-weight="bold" textLength="24.5" lengthAdjust="spacingAndGlyphs">6.89</text><text x="167" y="105" font-size="34.5" fill="#fff" textLength="37" lengthAdjust="spacingAndGlyphs">84</text><text x="206.3" y="89.5" font-size="10.5" fill="#fff" font-weight="bold" textLength="8" lengthAdjust="spacingAndGlyphs">2</text></svg></body></html>
